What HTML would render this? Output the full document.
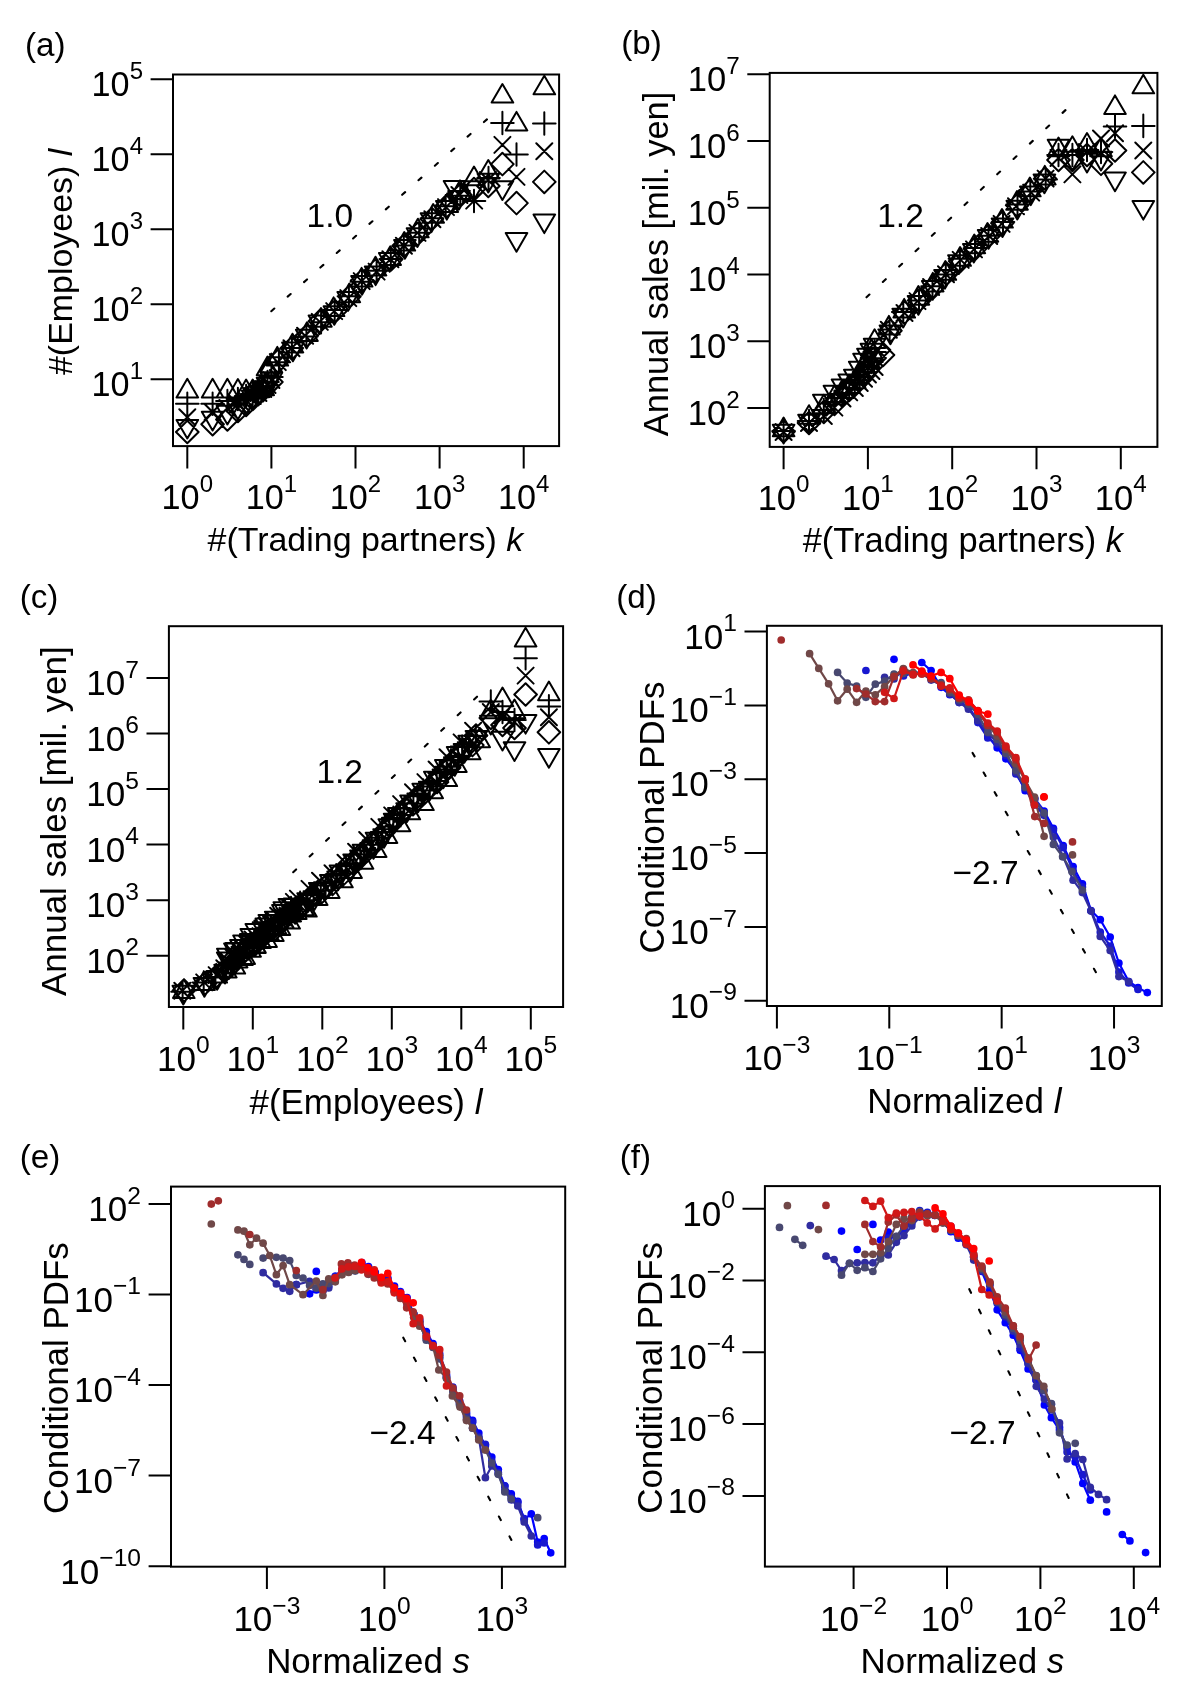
<!DOCTYPE html>
<html><head><meta charset="utf-8"><style>
html,body{margin:0;padding:0;background:#fff;}
svg{display:block;will-change:transform;}
text{font-family:"Liberation Sans", sans-serif;fill:#000;}
</style></head><body>
<svg width="1204" height="1700" viewBox="0 0 1204 1700">
<rect width="1204" height="1700" fill="#fff"/>
<rect x="173" y="74.5" width="386.1" height="371.6" fill="none" stroke="#000" stroke-width="2.0"/>
<text x="161.61" y="508.5" font-size="34.20">10</text><text x="199.65" y="491.5" font-size="24.00">0</text>
<text x="245.71" y="508.5" font-size="34.20">10</text><text x="283.75" y="491.5" font-size="24.00">1</text>
<text x="329.81" y="508.5" font-size="34.20">10</text><text x="367.85" y="491.5" font-size="24.00">2</text>
<text x="413.91" y="508.5" font-size="34.20">10</text><text x="451.95" y="491.5" font-size="24.00">3</text>
<text x="498.01" y="508.5" font-size="34.20">10</text><text x="536.05" y="491.5" font-size="24.00">4</text>
<text x="91.61" y="395.9" font-size="34.20">10</text><text x="129.65" y="378.9" font-size="24.00">1</text>
<text x="91.61" y="320.9" font-size="34.20">10</text><text x="129.65" y="303.9" font-size="24.00">2</text>
<text x="91.61" y="245.9" font-size="34.20">10</text><text x="129.65" y="228.9" font-size="24.00">3</text>
<text x="91.61" y="170.9" font-size="34.20">10</text><text x="129.65" y="153.9" font-size="24.00">4</text>
<text x="91.61" y="95.9" font-size="34.20">10</text><text x="129.65" y="78.9" font-size="24.00">5</text>
<path d="M187.3 446.1V468.5 M271.4 446.1V468.5 M355.5 446.1V468.5 M439.6 446.1V468.5 M523.7 446.1V468.5 M173 379.3H150.6 M173 304.3H150.6 M173 229.3H150.6 M173 154.3H150.6 M173 79.3H150.6" stroke="#000" stroke-width="2.0" fill="none"/>
<rect x="769.7" y="72.9" width="387.7" height="374" fill="none" stroke="#000" stroke-width="2.0"/>
<text x="757.65" y="509.5" font-size="34.54">10</text><text x="796.07" y="492.33" font-size="24.24">0</text>
<text x="841.95" y="509.5" font-size="34.54">10</text><text x="880.37" y="492.33" font-size="24.24">1</text>
<text x="926.25" y="509.5" font-size="34.54">10</text><text x="964.67" y="492.33" font-size="24.24">2</text>
<text x="1010.55" y="509.5" font-size="34.54">10</text><text x="1048.97" y="492.33" font-size="24.24">3</text>
<text x="1094.85" y="509.5" font-size="34.54">10</text><text x="1133.27" y="492.33" font-size="24.24">4</text>
<text x="687.8" y="424.9" font-size="34.54">10</text><text x="726.22" y="407.73" font-size="24.24">2</text>
<text x="687.8" y="358.17" font-size="34.54">10</text><text x="726.22" y="341" font-size="24.24">3</text>
<text x="687.8" y="291.44" font-size="34.54">10</text><text x="726.22" y="274.27" font-size="24.24">4</text>
<text x="687.8" y="224.71" font-size="34.54">10</text><text x="726.22" y="207.54" font-size="24.24">5</text>
<text x="687.8" y="157.98" font-size="34.54">10</text><text x="726.22" y="140.81" font-size="24.24">6</text>
<text x="687.8" y="91.25" font-size="34.54">10</text><text x="726.22" y="74.08" font-size="24.24">7</text>
<path d="M783.6 446.9V469.3 M867.9 446.9V469.3 M952.2 446.9V469.3 M1036.5 446.9V469.3 M1120.8 446.9V469.3 M769.7 407.9H747.3 M769.7 341.17H747.3 M769.7 274.44H747.3 M769.7 207.71H747.3 M769.7 140.98H747.3 M769.7 74.25H747.3" stroke="#000" stroke-width="2.0" fill="none"/>
<rect x="168.9" y="626.2" width="394.2" height="380.8" fill="none" stroke="#000" stroke-width="2.0"/>
<text x="156.96" y="1070.7" font-size="35.05">10</text><text x="195.96" y="1053.28" font-size="24.60">0</text>
<text x="226.46" y="1070.7" font-size="35.05">10</text><text x="265.46" y="1053.28" font-size="24.60">1</text>
<text x="295.96" y="1070.7" font-size="35.05">10</text><text x="334.96" y="1053.28" font-size="24.60">2</text>
<text x="365.46" y="1070.7" font-size="35.05">10</text><text x="404.46" y="1053.28" font-size="24.60">3</text>
<text x="434.96" y="1070.7" font-size="35.05">10</text><text x="473.96" y="1053.28" font-size="24.60">4</text>
<text x="504.46" y="1070.7" font-size="35.05">10</text><text x="543.46" y="1053.28" font-size="24.60">5</text>
<text x="86.23" y="972.7" font-size="35.05">10</text><text x="125.22" y="955.28" font-size="24.60">2</text>
<text x="86.23" y="917.16" font-size="35.05">10</text><text x="125.22" y="899.74" font-size="24.60">3</text>
<text x="86.23" y="861.62" font-size="35.05">10</text><text x="125.22" y="844.2" font-size="24.60">4</text>
<text x="86.23" y="806.08" font-size="35.05">10</text><text x="125.22" y="788.66" font-size="24.60">5</text>
<text x="86.23" y="750.54" font-size="35.05">10</text><text x="125.22" y="733.12" font-size="24.60">6</text>
<text x="86.23" y="695" font-size="35.05">10</text><text x="125.22" y="677.58" font-size="24.60">7</text>
<path d="M183.3 1007V1029.4 M252.8 1007V1029.4 M322.3 1007V1029.4 M391.8 1007V1029.4 M461.3 1007V1029.4 M530.8 1007V1029.4 M168.9 955.7H146.5 M168.9 900.16H146.5 M168.9 844.62H146.5 M168.9 789.08H146.5 M168.9 733.54H146.5 M168.9 678H146.5" stroke="#000" stroke-width="2.0" fill="none"/>
<rect x="766.9" y="625.8" width="394.9" height="380.2" fill="none" stroke="#000" stroke-width="2.0"/>
<text x="743.38" y="1070.3" font-size="35.05">10</text><text x="782.37" y="1052.88" font-size="24.60">−3</text>
<text x="855.76" y="1070.3" font-size="35.05">10</text><text x="894.75" y="1052.88" font-size="24.60">−1</text>
<text x="975.32" y="1070.3" font-size="35.05">10</text><text x="1014.32" y="1052.88" font-size="24.60">1</text>
<text x="1087.7" y="1070.3" font-size="35.05">10</text><text x="1126.7" y="1052.88" font-size="24.60">3</text>
<text x="684.23" y="648.6" font-size="35.05">10</text><text x="723.22" y="631.18" font-size="24.60">1</text>
<text x="669.86" y="722.44" font-size="35.05">10</text><text x="708.85" y="705.02" font-size="24.60">−1</text>
<text x="669.86" y="796.28" font-size="35.05">10</text><text x="708.85" y="778.86" font-size="24.60">−3</text>
<text x="669.86" y="870.12" font-size="35.05">10</text><text x="708.85" y="852.7" font-size="24.60">−5</text>
<text x="669.86" y="943.96" font-size="35.05">10</text><text x="708.85" y="926.54" font-size="24.60">−7</text>
<text x="669.86" y="1017.8" font-size="35.05">10</text><text x="708.85" y="1000.38" font-size="24.60">−9</text>
<path d="M776.9 1006V1028.4 M889.28 1006V1028.4 M1001.66 1006V1028.4 M1114.04 1006V1028.4 M766.9 631.6H744.5 M766.9 705.44H744.5 M766.9 779.28H744.5 M766.9 853.12H744.5 M766.9 926.96H744.5 M766.9 1000.8H744.5" stroke="#000" stroke-width="2.0" fill="none"/>
<rect x="171" y="1186.6" width="394.2" height="380.1" fill="none" stroke="#000" stroke-width="2.0"/>
<text x="233.38" y="1631.1" font-size="35.05">10</text><text x="272.37" y="1613.67" font-size="24.60">−3</text>
<text x="358.07" y="1631.1" font-size="35.05">10</text><text x="397.07" y="1613.67" font-size="24.60">0</text>
<text x="475.58" y="1631.1" font-size="35.05">10</text><text x="514.58" y="1613.67" font-size="24.60">3</text>
<text x="88.33" y="1221.3" font-size="35.05">10</text><text x="127.32" y="1203.88" font-size="24.60">2</text>
<text x="73.96" y="1311.87" font-size="35.05">10</text><text x="112.95" y="1294.45" font-size="24.60">−1</text>
<text x="73.96" y="1402.44" font-size="35.05">10</text><text x="112.95" y="1385.02" font-size="24.60">−4</text>
<text x="73.96" y="1493.01" font-size="35.05">10</text><text x="112.95" y="1475.59" font-size="24.60">−7</text>
<text x="60.28" y="1583.58" font-size="35.05">10</text><text x="99.27" y="1566.16" font-size="24.60">−10</text>
<path d="M266.9 1566.7V1589.1 M384.41 1566.7V1589.1 M501.92 1566.7V1589.1 M171 1203.9H148.6 M171 1294.47H148.6 M171 1385.04H148.6 M171 1475.61H148.6 M171 1566.18H148.6" stroke="#000" stroke-width="2.0" fill="none"/>
<rect x="764.9" y="1186.1" width="395.1" height="380.5" fill="none" stroke="#000" stroke-width="2.0"/>
<text x="820.08" y="1631.1" font-size="35.05">10</text><text x="859.07" y="1613.67" font-size="24.60">−2</text>
<text x="920.66" y="1631.1" font-size="35.05">10</text><text x="959.66" y="1613.67" font-size="24.60">0</text>
<text x="1014.06" y="1631.1" font-size="35.05">10</text><text x="1053.06" y="1613.67" font-size="24.60">2</text>
<text x="1107.46" y="1631.1" font-size="35.05">10</text><text x="1146.46" y="1613.67" font-size="24.60">4</text>
<text x="682.23" y="1225.7" font-size="35.05">10</text><text x="721.22" y="1208.28" font-size="24.60">0</text>
<text x="667.86" y="1297.5" font-size="35.05">10</text><text x="706.85" y="1280.08" font-size="24.60">−2</text>
<text x="667.86" y="1369.3" font-size="35.05">10</text><text x="706.85" y="1351.88" font-size="24.60">−4</text>
<text x="667.86" y="1441.1" font-size="35.05">10</text><text x="706.85" y="1423.67" font-size="24.60">−6</text>
<text x="667.86" y="1512.9" font-size="35.05">10</text><text x="706.85" y="1495.48" font-size="24.60">−8</text>
<path d="M853.6 1566.6V1589 M947 1566.6V1589 M1040.4 1566.6V1589 M1133.8 1566.6V1589 M764.9 1208.7H742.5 M764.9 1280.5H742.5 M764.9 1352.3H742.5 M764.9 1424.1H742.5 M764.9 1495.9H742.5" stroke="#000" stroke-width="2.0" fill="none"/>
<text x="207.56" y="550.9" font-size="33.95" xml:space="preserve"><tspan>#(Trading partners) </tspan><tspan font-style="italic">k</tspan></text>
<text x="802.72" y="551.8" font-size="34.45" xml:space="preserve"><tspan>#(Trading partners) </tspan><tspan font-style="italic">k</tspan></text>
<text x="249.46" y="1113.5" font-size="34.95" xml:space="preserve"><tspan>#(Employees) </tspan><tspan font-style="italic">l</tspan></text>
<text x="867.24" y="1113.1" font-size="34.95" xml:space="preserve"><tspan>Normalized </tspan><tspan font-style="italic">l</tspan></text>
<text x="266.13" y="1673.3" font-size="34.95" xml:space="preserve"><tspan>Normalized </tspan><tspan font-style="italic">s</tspan></text>
<text x="860.48" y="1673.3" font-size="34.95" xml:space="preserve"><tspan>Normalized </tspan><tspan font-style="italic">s</tspan></text>
<text transform="translate(72.3 375.01) rotate(-90)" font-size="33.95" xml:space="preserve"><tspan>#(Employees) </tspan><tspan font-style="italic">l</tspan></text>
<text transform="translate(667.7 436.23) rotate(-90)" font-size="34.45" xml:space="preserve"><tspan>Annual sales [mil. yen]</tspan></text>
<text transform="translate(65.8 995.94) rotate(-90)" font-size="34.95" xml:space="preserve"><tspan>Annual sales [mil. yen]</tspan></text>
<text transform="translate(663.7 953.38) rotate(-90)" font-size="34.95" xml:space="preserve"><tspan>Conditional PDFs</tspan></text>
<text transform="translate(67.8 1514.03) rotate(-90)" font-size="34.95" xml:space="preserve"><tspan>Conditional PDFs</tspan></text>
<text transform="translate(661.8 1513.83) rotate(-90)" font-size="34.95" xml:space="preserve"><tspan>Conditional PDFs</tspan></text>
<text x="24.9" y="56" font-size="33.2">(a)</text>
<text x="621.2" y="54.2" font-size="33.2">(b)</text>
<text x="19.7" y="608.2" font-size="33.2">(c)</text>
<text x="616.2" y="607.8" font-size="33.2">(d)</text>
<text x="19.7" y="1168.2" font-size="33.2">(e)</text>
<text x="619.7" y="1168.2" font-size="33.2">(f)</text>
<text x="329.8" y="226.8" font-size="33.5" text-anchor="middle">1.0</text>
<text x="900.5" y="226.5" font-size="33.5" text-anchor="middle">1.2</text>
<text x="339.7" y="782.5" font-size="33.5" text-anchor="middle">1.2</text>
<text x="985.5" y="883.5" font-size="33.5" text-anchor="middle">−2.7</text>
<text x="402.5" y="1443.7" font-size="33.5" text-anchor="middle">−2.4</text>
<text x="982.5" y="1443.7" font-size="33.5" text-anchor="middle">−2.7</text>
<path d="M187.3 378.8L198.1 397.4H176.5ZM176 403.8H198.6M187.3 392.5V415.1M179.3 409.2L195.3 425.2M179.3 425.2L195.3 409.2M176 432L187.3 420.7L198.6 432L187.3 443.3ZM187.3 438.5L198.1 419.9H176.5ZM212.6 378.8L223.4 397.4H201.8ZM201.3 403.8H223.9M212.6 392.5V415.1M204.6 404L220.6 420M204.6 420L220.6 404M201.3 424.2L212.6 412.9L223.9 424.2L212.6 435.5ZM212.6 430.4L223.4 411.8H201.8ZM227.4 378.8L238.2 397.4H216.6ZM216.1 401H238.7M227.4 389.7V412.3M219.4 400L235.4 416M219.4 416L235.4 400M216.1 419.5L227.4 408.2L238.7 419.5L227.4 430.8ZM227.4 424.4L238.2 405.8H216.6ZM237.9 379.1L248.7 397.7H227.1ZM226.6 399H249.2M237.9 387.7V410.3M229.9 396L245.9 412M229.9 412L245.9 396M226.6 411L237.9 399.7L249.2 411L237.9 422.3ZM237.9 419.4L248.7 400.8H227.1ZM246.1 379.6L256.9 398.2H235.3ZM234.8 396H257.4M246.1 384.7V407.3M238.1 392L254.1 408M238.1 408L254.1 392M234.8 405L246.1 393.7L257.4 405L246.1 416.3ZM246.1 414.4L256.9 395.8H235.3ZM252.7 379.6L263.5 398.2H241.9ZM241.4 394H264M252.7 382.7V405.3M244.7 388L260.7 404M244.7 404L260.7 388M241.4 399L252.7 387.7L264 399L252.7 410.3ZM252.7 409.4L263.5 390.8H241.9ZM258.4 378.6L269.2 397.2H247.6ZM247.1 391H269.7M258.4 379.7V402.3M250.4 385L266.4 401M250.4 401L266.4 385M247.1 394L258.4 382.7L269.7 394L258.4 405.3ZM258.4 405.4L269.2 386.8H247.6ZM263.2 376.6L274 395.2H252.4ZM251.9 387H274.5M263.2 375.7V398.3M255.2 381L271.2 397M255.2 397L271.2 381M251.9 390L263.2 378.7L274.5 390L263.2 401.3ZM263.2 401.4L274 382.8H252.4ZM267.5 356.6L278.3 375.2H256.7ZM256.2 382H278.8M267.5 370.7V393.3M259.5 377L275.5 393M259.5 393L275.5 377M256.2 386L267.5 374.7L278.8 386L267.5 397.3ZM267.5 396.4L278.3 377.8H256.7ZM271.4 353.6L282.2 372.2H260.6ZM260.1 377H282.7M271.4 365.7V388.3M263.4 372L279.4 388M263.4 388L279.4 372M260.1 382L271.4 370.7L282.7 382L271.4 393.3ZM271.4 391.4L282.2 372.8H260.6ZM277.3 346.9L288.1 365.6H266.6ZM267.6 362.2H290.2M278.9 350.9V373.5M269.8 354.1L285.8 370.1M269.8 370.1L285.8 354.1M266.6 361.2L277.9 349.9L289.2 361.2L277.9 372.5ZM277.8 375.8L288.6 357.2H267ZM292.5 333.7L303.2 352.4H281.7ZM280.6 348.1H303.2M291.9 336.8V359.4M283.5 340.3L299.5 356.3M283.5 356.3L299.5 340.3M280.4 348.3L291.7 337L303 348.3L291.7 359.6ZM292.9 361.3L303.7 342.6H282.1ZM307 322.3L317.8 340.9H296.2ZM295.1 336.4H317.7M306.4 325.1V347.7M297.1 327.8L313.1 343.8M297.1 343.8L313.1 327.8M295.4 335.8L306.7 324.5L318 335.8L306.7 347.1ZM306.6 348.4L317.4 329.8H295.9ZM321 308L331.7 326.7H310.2ZM309.8 322.2H332.4M321.1 310.9V333.5M311.8 313.9L327.8 329.9M311.8 329.9L327.8 313.9M308.6 321.1L319.9 309.8L331.2 321.1L319.9 332.5ZM319.4 334.2L330.1 315.5H308.6ZM333.6 297.4L344.3 316.1H322.8ZM323.4 309.9H346M334.7 298.6V321.2M326.2 303.1L342.2 319.1M326.2 319.1L342.2 303.1M323.9 311.3L335.2 299.9L346.5 311.3L335.2 322.6ZM334.3 324.8L345.1 306.2H323.6ZM349.3 283.5L360.1 302.2H338.6ZM337.6 296.2H360.2M348.9 284.9V307.5M340.3 290.1L356.3 306.1M340.3 306.1L356.3 290.1M338.1 296.6L349.4 285.3L360.7 296.6L349.4 307.9ZM348.2 310.8L359 292.1H337.4ZM361.6 267.9L372.4 286.6H350.8ZM350.6 281.8H373.2M361.9 270.5V293.1M353.7 273.1L369.7 289.1M353.7 289.1L369.7 273.1M350.8 280.4L362.1 269.1L373.4 280.4L362.1 291.7ZM362 294.7L372.8 276H351.2ZM375.5 256.7L386.3 275.4H364.7ZM365.3 270.7H387.9M376.6 259.4V282.1M368.6 263.6L384.6 279.6M368.6 279.6L384.6 263.6M364.1 270.8L375.5 259.4L386.8 270.8L375.5 282.1ZM375.6 285.1L386.4 266.4H364.8ZM390.3 246.3L401 265H379.5ZM379.5 259H402.1M390.8 247.7V270.3M382.4 251.3L398.4 267.3M382.4 267.3L398.4 251.3M379.9 259.3L391.2 248L402.5 259.3L391.2 270.6ZM389.7 271.7L400.5 253H378.9ZM404.3 232L415.1 250.6H393.6ZM392.5 245.6H415.1M403.8 234.3V256.9M395.9 237.7L411.9 253.7M395.9 253.7L411.9 237.7M392.4 245.8L403.7 234.5L415.1 245.8L403.7 257.1ZM404.9 258.7L415.7 240H394.1ZM417.9 218.7L428.6 237.3H407.1ZM407.9 232.8H430.5M419.2 221.5V244.1M409.5 224.9L425.5 240.9M409.5 240.9L425.5 224.9M406.3 234L417.6 222.7L428.9 234L417.6 245.3ZM417.4 246.9L428.2 228.2H406.7ZM433.2 204.1L444 222.7H422.5ZM420.6 218.3H443.2M431.9 207V229.7M424.4 211.3L440.4 227.3M424.4 227.3L440.4 211.3M420.5 219L431.8 207.7L443.2 219L431.8 230.3ZM431.5 231.9L442.3 213.3H420.7ZM447.4 193.3L458.1 211.9H436.6ZM434.4 206.2H457M445.7 194.9V217.5M438 199.1L454 215.1M438 215.1L454 199.1M434.9 206.4L446.2 195L457.5 206.4L446.2 217.7ZM446.8 219.6L457.6 201H436ZM460 180.4L470.7 199.1H449.2ZM449 195.8H471.6M460.3 184.5V207.1M451.4 187L467.4 203M451.4 203L467.4 187M449.2 195.1L460.5 183.8L471.8 195.1L460.5 206.5ZM459 209.5L469.8 190.9H448.2ZM454.5 199.6L465.3 181H443.7ZM474 166.6L484.8 185.2H463.2ZM462.7 201H485.3M474 189.7V212.3M466.2 192.6L482.2 208.6M466.2 208.6L482.2 192.6M462.7 189L474 177.7L485.3 189L474 200.3ZM474 199.8L484.8 181.2H463.2ZM488.3 160L499.1 178.6H477.5ZM477.2 178H499.8M488.5 166.7V189.3M480 172L496 188M480 188L496 172M477 186L488.3 174.7L499.6 186L488.3 197.3ZM488.3 192.4L499.1 173.8H477.5ZM502.4 84L513.2 102.6H491.6ZM491.1 123H513.7M502.4 111.7V134.3M494.4 136.9L510.4 152.9M494.4 152.9L510.4 136.9M491.1 164.1L502.4 152.8L513.7 164.1L502.4 175.4ZM502.4 199.9L513.2 181.3H491.6ZM516.5 111.9L527.3 130.5H505.7ZM505.2 154.5H527.8M516.5 143.2V165.8M508.5 168.9L524.5 184.9M508.5 184.9L524.5 168.9M505.2 203.1L516.5 191.8L527.8 203.1L516.5 214.4ZM516.5 251.7L527.3 233.1H505.7ZM544.3 75.7L555.1 94.3H533.5ZM533 123.5H555.6M544.3 112.2V134.8M536.3 143.2L552.3 159.2M536.3 159.2L552.3 143.2M533 181.9L544.3 170.6L555.6 181.9L544.3 193.2ZM544.3 233.1L555.1 214.5H533.5Z" fill="none" stroke="#000" stroke-width="2.0" stroke-linejoin="round" stroke-linecap="round"/>
<path d="M271.3 311.2L486.9 119.4" stroke="#000" stroke-width="2.1" stroke-linecap="round" stroke-dasharray="4.00 17.89" fill="none"/>
<path d="M783.6 417.6L794.4 436.2H772.8ZM772.3 431H794.9M783.6 419.7V442.3M775.6 424L791.6 440M775.6 440L791.6 424M772.3 431.5L783.6 420.2L794.9 431.5L783.6 442.8ZM783.6 443.4L794.4 424.8H772.8ZM809 405.2L819.8 423.8H798.2ZM797.7 421H820.3M809 409.7V432.3M801 415L817 431M801 431L817 415M797.7 423L809 411.7L820.3 423L809 434.3ZM809 433.4L819.8 414.8H798.2ZM823.8 394.6L834.6 413.2H813ZM812.5 410H835.1M823.8 398.7V421.3M815.8 408L831.8 424M815.8 424L831.8 408M812.5 412L823.8 400.7L835.1 412L823.8 423.3ZM823.8 413.4L834.6 394.8H813ZM834.4 385.6L845.2 404.2H823.6ZM823.1 402H845.7M834.4 390.7V413.3M826.4 399.6L842.4 415.6M826.4 415.6L842.4 399.6M823.1 404L834.4 392.7L845.7 404L834.4 415.3ZM834.4 404.4L845.2 385.8H823.6ZM842.5 379.5L853.3 398.1H831.7ZM831.2 394H853.8M842.5 382.7V405.3M834.5 390.5L850.5 406.5M834.5 406.5L850.5 390.5M831.2 396L842.5 384.7L853.8 396L842.5 407.3ZM842.5 398.1L853.3 379.5H831.7ZM849.2 374.5L860 393.1H838.4ZM837.9 388H860.5M849.2 376.7V399.3M841.2 384.4L857.2 400.4M841.2 400.4L857.2 384.4M837.9 390L849.2 378.7L860.5 390L849.2 401.3ZM849.2 393.1L860 374.5H838.4ZM854.8 369.6L865.6 388.2H844ZM843.5 383H866.1M854.8 371.7V394.3M846.8 380L862.8 396M846.8 396L862.8 380M843.5 385L854.8 373.7L866.1 385L854.8 396.3ZM854.8 388.4L865.6 369.8H844ZM859.7 361.6L870.5 380.2H848.9ZM848.4 377H871M859.7 365.7V388.3M851.7 375L867.7 391M851.7 391L867.7 375M848.4 380L859.7 368.7L871 380L859.7 391.3ZM859.7 380.4L870.5 361.8H848.9ZM864 353.6L874.8 372.2H853.2ZM852.7 372H875.3M864 360.7V383.3M856 370.8L872 386.8M856 386.8L872 370.8M852.7 375L864 363.7L875.3 375L864 386.3ZM864 372.4L874.8 353.8H853.2ZM867.9 347.6L878.7 366.2H857.1ZM856.6 367H879.2M867.9 355.7V378.3M859.9 366.5L875.9 382.5M859.9 382.5L875.9 366.5M856.6 370L867.9 358.7L879.2 370L867.9 381.3ZM867.9 367.4L878.7 348.8H857.1ZM871.4 339.6L882.2 358.2H860.6ZM860.1 362H882.7M871.4 350.7V373.3M863.4 363L879.4 379M863.4 379L879.4 363M860.1 366L871.4 354.7L882.7 366L871.4 377.3ZM871.4 362.4L882.2 343.8H860.6ZM874.6 329.3L885.4 347.9H863.8ZM863.3 352H885.9M874.6 340.7V363.3M866.6 359L882.6 375M866.6 375L882.6 359M863.3 358L874.6 346.7L885.9 358L874.6 369.3ZM874.6 357.4L885.4 338.8H863.8ZM871.7 355L883 343.7L894.3 355L883 366.3ZM867.7 350L879 338.7L890.3 350L879 361.3ZM888.9 315.9L899.7 334.6H878.2ZM878.3 329.4H900.9M889.6 318.1V340.7M880.8 321.7L896.8 337.7M880.8 337.7L896.8 321.7M879.1 330.7L890.4 319.4L901.7 330.7L890.4 342ZM890.4 344.2L901.2 325.5H879.6ZM904.2 298.9L915 317.6H893.4ZM891.9 312.1H914.6M903.3 300.8V323.4M896.5 305L912.5 321M896.5 321L912.5 305M893.1 312.6L904.4 301.3L915.7 312.6L904.4 323.9ZM903.2 327.4L914 308.7H892.4ZM918.4 286L929.2 304.7H907.6ZM907.7 300.5H930.3M919 289.2V311.8M909.5 293.1L925.5 309.1M909.5 309.1L925.5 293.1M908.1 300.2L919.4 288.9L930.7 300.2L919.4 311.5ZM918.4 314.8L929.2 296.1H907.7ZM932.8 272.9L943.5 291.5H922ZM921.2 286.3H943.8M932.5 275V297.6M923.1 279L939.1 295M923.1 295L939.1 279M921.3 288L932.6 276.7L944 288L932.6 299.4ZM932.7 299.8L943.4 281.1H921.9ZM945.4 261.1L956.1 279.8H934.6ZM934.5 274.4H957.1M945.8 263.1V285.7M938 266.3L954 282.3M938 282.3L954 266.3M935.2 273.7L946.5 262.4L957.8 273.7L946.5 285ZM945 288.6L955.8 269.9H934.2ZM960.1 247.1L970.9 265.8H949.4ZM948.6 258.8H971.2M959.9 247.5V270.2M952.7 251.9L968.7 267.9M952.7 267.9L968.7 251.9M948.8 261.1L960.1 249.8L971.4 261.1L960.1 272.5ZM958.9 273.9L969.7 255.3H948.1ZM974.3 234.6L985.1 253.2H963.5ZM963.7 247.9H986.3M975 236.6V259.2M966 241.4L982 257.4M966 257.4L982 241.4M963.7 248.9L975 237.6L986.3 248.9L975 260.2ZM973.8 262.5L984.5 243.9H963ZM987.5 223L998.2 241.7H976.7ZM977.2 235.8H999.8M988.5 224.4V247.1M981.2 228L997.2 244M981.2 244L997.2 228M977.4 235.9L988.7 224.6L1000 235.9L988.7 247.2ZM988.6 248.7L999.3 230.1H977.8ZM1002 209L1012.8 227.6H991.2ZM991.7 222H1014.3M1003 210.7V233.3M993.6 215.9L1009.6 231.9M993.6 231.9L1009.6 215.9M991 223.1L1002.3 211.8L1013.6 223.1L1002.3 234.4ZM1002.5 237L1013.3 218.4H991.7ZM1017 191.1L1027.8 209.7H1006.2ZM1006.2 204.5H1028.8M1017.5 193.2V215.8M1008 198.3L1024 214.3M1008 214.3L1024 198.3M1005.9 205.4L1017.2 194.1L1028.5 205.4L1017.2 216.7ZM1017.3 219.4L1028.1 200.7H1006.5ZM1029.9 177.6L1040.6 196.3H1019.1ZM1019 191.4H1041.6M1030.3 180.1V202.7M1023.2 184.6L1039.2 200.6M1023.2 200.6L1039.2 184.6M1018.5 191L1029.8 179.7L1041.1 191L1029.8 202.3ZM1030.8 205.1L1041.5 186.5H1020ZM1044.8 165.9L1055.6 184.5H1034ZM1034.4 179.4H1057M1045.7 168.1V190.7M1037.6 170.6L1053.6 186.6M1037.6 186.6L1053.6 170.6M1033.8 178.6L1045.1 167.3L1056.4 178.6L1045.1 189.9ZM1044.4 193.2L1055.2 174.5H1033.6ZM1058.5 137.6L1069.3 156.2H1047.7ZM1047.2 155H1069.8M1058.5 143.7V166.3M1050.5 150L1066.5 166M1050.5 166L1066.5 150M1047.2 160L1058.5 148.7L1069.8 160L1058.5 171.3ZM1058.5 158.4L1069.3 139.8H1047.7ZM1072.4 136.3L1083.2 154.9H1061.6ZM1061.1 155H1083.7M1072.4 143.7V166.3M1064.4 166.4L1080.4 182.4M1064.4 182.4L1080.4 166.4M1061.1 160L1072.4 148.7L1083.7 160L1072.4 171.3ZM1072.4 170.4L1083.2 151.8H1061.6ZM1087 133L1097.8 151.6H1076.2ZM1075.7 150H1098.3M1087 138.7V161.3M1079 144L1095 160M1079 160L1095 144M1075.7 155L1087 143.7L1098.3 155L1087 166.3ZM1087 172.4L1097.8 153.8H1076.2ZM1101 137.6L1111.8 156.2H1090.2ZM1089.7 152H1112.3M1101 140.7V163.3M1093 130.5L1109 146.5M1093 146.5L1109 130.5M1089.7 163.8L1101 152.5L1112.3 163.8L1101 175.1ZM1101 170.4L1111.8 151.8H1090.2ZM1115 95.4L1125.8 114H1104.2ZM1103.7 126.6H1126.3M1115 115.3V137.9M1107 125.2L1123 141.2M1107 141.2L1123 125.2M1103.7 150.5L1115 139.2L1126.3 150.5L1115 161.8ZM1115 191.2L1125.8 172.6H1104.2ZM1143.3 74.7L1154.1 93.3H1132.5ZM1132 125.9H1154.6M1143.3 114.6V137.2M1135.3 142.5L1151.3 158.5M1135.3 158.5L1151.3 142.5M1132 172.4L1143.3 161.1L1154.6 172.4L1143.3 183.7ZM1143.3 219.6L1154.1 201H1132.5Z" fill="none" stroke="#000" stroke-width="2.0" stroke-linejoin="round" stroke-linecap="round"/>
<path d="M866.5 297.3L1065.5 110.1" stroke="#000" stroke-width="2.1" stroke-linecap="round" stroke-dasharray="4.00 18.43" fill="none"/>
<path d="M183.8 979.5L194.5 998.1H173ZM171.2 991.7H193.9M182.6 980.4V1003M174.3 982.8L190.3 998.8M174.3 998.8L190.3 982.8M172.7 990.4L184 979.1L195.3 990.4L184 1001.7ZM183.3 1004.4L194.1 985.8H172.5ZM203.9 971.4L214.7 990.1H193.1ZM192.4 982.5H215M203.7 971.2V993.8M196.2 974.4L212.2 990.4M196.2 990.4L212.2 974.4M193.8 983.3L205.1 971.9L216.4 983.3L205.1 994.6ZM204.4 996.7L215.1 978.1H193.6ZM216.2 963.9L227 982.6H205.4ZM204.1 977.1H226.7M215.4 965.7V988.4M208.6 967.1L224.6 983.1M208.6 983.1L224.6 967.1M204.6 976.7L215.9 965.4L227.2 976.7L215.9 988ZM217.2 989.7L228 971H206.5ZM225.9 958.7L236.6 977.4H215.1ZM214 968.6H236.6M225.3 957.3V979.9M216.3 960.3L232.3 976.3M216.3 976.3L232.3 960.3M214.2 970L225.5 958.7L236.8 970L225.5 981.3ZM225.1 983.4L235.9 964.8H214.3ZM234.3 955L245.1 973.6H223.5ZM219.3 962.5H241.9M230.6 951.2V973.8M220.9 953.7L236.9 969.7M220.9 969.7L236.9 953.7M217.5 967.7L228.8 956.4L240.2 967.7L228.8 979.1ZM227.7 971.3L238.4 952.6H216.9ZM236.6 948.8L247.4 967.4H225.8ZM222.8 960.8H245.4M234.1 949.5V972.1M224.7 948.8L240.7 964.8M224.7 964.8L240.7 948.8M222.1 959L233.4 947.7L244.7 959L233.4 970.3ZM227.8 967.5L238.5 948.8H217ZM242 946.3L252.8 965H231.2ZM225.7 958.1H248.3M237 946.8V969.4M224.7 943.6L240.7 959.6M224.7 959.6L240.7 943.6M226.8 957.9L238.1 946.6L249.4 957.9L238.1 969.2ZM234.9 962.2L245.6 943.6H224.1ZM244.2 945.4L255 964H233.4ZM228.8 953.1H251.4M240.1 941.8V964.4M231 941.6L247 957.6M231 957.6L247 941.6M232.4 951.9L243.7 940.6L255 951.9L243.7 963.2ZM236.3 961.6L247.1 942.9H225.5ZM250.1 938L260.9 956.7H239.4ZM231.5 946.7H254.1M242.8 935.4V958M234.8 940.7L250.8 956.7M234.8 956.7L250.8 940.7M236.9 948.4L248.2 937.1L259.5 948.4L248.2 959.7ZM240.9 958.7L251.7 940H230.1ZM254.9 934.3L265.7 953H244.2ZM236 947.7H258.6M247.3 936.4V959M238.5 935.6L254.5 951.6M238.5 951.6L254.5 935.6M237.9 945.5L249.3 934.2L260.6 945.5L249.3 956.8ZM244 954.2L254.8 935.5H233.2ZM254.9 933.8L265.7 952.5H244.1ZM242.7 944.2H265.3M254 932.9V955.5M244.5 931.5L260.5 947.5M244.5 947.5L260.5 931.5M244 944.1L255.4 932.8L266.7 944.1L255.4 955.4ZM250.8 952.7L261.6 934H240ZM260 929.3L270.8 947.9H249.2ZM245.6 938.9H268.2M256.9 927.6V950.2M247.9 929.1L263.9 945.1M247.9 945.1L263.9 929.1M244.8 941.5L256.2 930.2L267.5 941.5L256.2 952.8ZM251.3 947.7L262.1 929.1H240.5ZM266.2 928.4L276.9 947H255.4ZM248.7 935.2H271.3M260 923.9V946.5M252.5 928.1L268.5 944.1M252.5 944.1L268.5 928.1M253 935.2L264.3 923.9L275.6 935.2L264.3 946.5ZM256.3 942.8L267.1 924.1H245.5ZM268.3 922.1L279.1 940.8H257.6ZM254 930.9H276.6M265.3 919.6V942.2M254.4 920.5L270.4 936.5M254.4 936.5L270.4 920.5M253.3 932.6L264.6 921.3L275.9 932.6L264.6 943.9ZM263.5 941L274.3 922.3H252.7ZM273 922.3L283.7 941H262.2ZM256.2 930.4H278.8M267.5 919V941.7M258.4 917.7L274.4 933.7M258.4 933.7L274.4 917.7M260.8 928.9L272.1 917.6L283.4 928.9L272.1 940.2ZM266.2 937.1L277 918.4H255.5ZM275.7 915.3L286.4 933.9H264.9ZM262.6 928.3H285.3M273.9 917V939.6M264.3 915.8L280.3 931.8M264.3 931.8L280.3 915.8M264.3 928.5L275.6 917.2L286.9 928.5L275.6 939.9ZM269.3 933.6L280.1 914.9H258.5ZM279.5 916.2L290.2 934.9H268.7ZM266.7 922.2H289.3M278 910.8V933.5M266.2 912L282.2 928M266.2 928L282.2 912M269.2 922.7L280.5 911.4L291.8 922.7L280.5 934ZM273.3 933.9L284.1 915.3H262.5ZM283.1 909.6L293.9 928.3H272.4ZM268.2 918.7H290.8M279.5 907.4V930M270.2 907.7L286.2 923.7M270.2 923.7L286.2 907.7M270.6 919.6L282 908.3L293.3 919.6L282 930.9ZM275.7 930.4L286.5 911.7H264.9ZM289.2 910L299.9 928.6H278.4ZM275.7 914.3H298.3M287 903V925.6M273.9 908.4L289.9 924.4M273.9 924.4L289.9 908.4M275.1 916.2L286.4 904.9L297.7 916.2L286.4 927.5ZM282.8 923.8L293.6 905.1H272.1ZM290.3 902.9L301 921.5H279.5ZM280.1 914.3H302.7M291.4 903V925.7M280.8 904.7L296.8 920.7M280.8 920.7L296.8 904.7M276.7 914.5L288 903.2L299.3 914.5L288 925.8ZM284.2 920.9L295 902.3H273.5ZM295.9 900.4L306.6 919H285.1ZM279.7 908.2H302.3M291 896.8V919.5M281.3 899.3L297.3 915.3M281.3 915.3L297.3 899.3M283.9 912.3L295.2 901L306.5 912.3L295.2 923.7ZM289.4 917.5L300.2 898.9H278.6ZM302.8 896.7L313.6 915.3H292.1ZM287.9 904.3H310.5M299.2 893V915.6M285.9 893.9L301.9 909.9M285.9 909.9L301.9 893.9M285.3 907.6L296.6 896.3L307.9 907.6L296.6 919ZM294.6 917.2L305.3 898.5H283.8ZM305.9 897.9L316.7 916.6H295.1ZM288.8 902.7H311.4M300.1 891.4V914M289.9 890.6L305.9 906.6M289.9 906.6L305.9 890.6M292.1 904.9L303.4 893.6L314.7 904.9L303.4 916.2ZM302.1 919.1L312.8 900.4H291.3ZM316.7 886.4L327.5 905H305.9ZM302.3 895H324.9M313.6 883.7V906.3M301.5 880.9L317.5 896.9M301.5 896.9L317.5 880.9M301.3 895L312.6 883.7L323.9 895L312.6 906.3ZM314.3 909.9L325.1 891.2H303.5ZM328.8 879.3L339.6 898H318.1ZM314.3 885.6H336.9M325.6 874.3V897M312 872.7L328 888.7M312 888.7L328 872.7M314.3 886.8L325.6 875.5L336.9 886.8L325.6 898.1ZM324.8 901L335.6 882.3H314ZM341.9 868.7L352.7 887.3H331.1ZM324.9 875.4H347.6M336.2 864.1V886.7M324.5 865.3L340.5 881.3M324.5 881.3L340.5 865.3M324.4 876.3L335.7 865L347 876.3L335.7 887.7ZM338.1 890.3L348.8 871.6H327.3ZM351.2 859.3L361.9 877.9H340.4ZM334.7 866.2H357.4M346.1 854.9V877.5M337.5 854.8L353.5 870.8M337.5 870.8L353.5 854.8M335.9 866.3L347.2 855L358.5 866.3L347.2 877.6ZM350 882.5L360.7 863.9H339.2ZM362.6 850L373.3 868.7H351.8ZM349 854.2H371.6M360.3 842.9V865.5M348.1 843.8L364.1 859.8M348.1 859.8L364.1 843.8M347.8 855.8L359.1 844.5L370.4 855.8L359.1 867.2ZM360.9 869.2L371.6 850.5H350.1ZM375.8 838.2L386.5 856.9H365ZM360.4 844.7H383M371.7 833.4V856M359.2 832L375.2 848M359.2 848L375.2 832M360.5 843.4L371.8 832.1L383.1 843.4L371.8 854.7ZM373.5 858.8L384.2 840.2H362.7ZM386.6 824.3L397.3 843H375.8ZM370.7 832H393.4M382 820.7V843.3M371.3 818.9L387.3 834.9M371.3 834.9L387.3 818.9M372.4 832.3L383.7 821L395 832.3L383.7 843.6ZM384 847.8L394.8 829.2H373.3ZM399.5 812.5L410.3 831.2H388.8ZM382 817.8H404.6M393.3 806.5V829.2M384.2 807.4L400.2 823.4M384.2 823.4L400.2 807.4M382.1 819.5L393.5 808.1L404.8 819.5L393.5 830.8ZM394.6 832.5L405.4 813.8H383.8ZM409.3 800.6L420.1 819.3H398.5ZM393 808.5H415.6M404.3 797.1V819.8M393.1 796.1L409.1 812.1M393.1 812.1L409.1 796.1M394.1 808.1L405.5 796.8L416.8 808.1L405.5 819.4ZM407 822L417.8 803.3H396.3ZM422.9 791.4L433.7 810.1H412.2ZM406.2 796.3H428.8M417.5 785V807.6M405 784.2L421 800.2M405 800.2L421 784.2M405.4 797.5L416.7 786.2L428.1 797.5L416.7 808.8ZM418.2 812.1L429 793.4H407.4ZM432.2 779.6L443 798.2H421.5ZM418.5 786.5H441.1M429.8 775.1V797.8M417.4 774.1L433.4 790.1M417.4 790.1L433.4 774.1M418.7 786.9L430 775.6L441.4 786.9L430 798.2ZM429.6 800.5L440.4 781.8H418.9ZM446.3 767.4L457.1 786.1H435.6ZM428.3 773H450.9M439.6 761.7V784.3M428.6 761.5L444.6 777.5M428.6 777.5L444.6 761.5M428.8 775.5L440.1 764.2L451.4 775.5L440.1 786.8ZM443.4 788.1L454.2 769.4H432.6ZM455.9 753.2L466.7 771.9H445.1ZM439.7 760.4H462.3M451 749.1V771.7M439.5 749.3L455.5 765.3M439.5 765.3L455.5 749.3M440.4 762.4L451.7 751.1L463 762.4L451.7 773.8ZM454.8 775.8L465.5 757.2H444ZM469.8 740.6L480.5 759.3H459ZM450.7 746.5H473.4M462.1 735.2V757.8M453.6 734.4L469.6 750.4M453.6 750.4L469.6 734.4M452 749.9L463.4 738.6L474.7 749.9L463.4 761.2ZM464.5 762.6L475.2 743.9H453.7ZM479.2 728.5L490 747.2H468.4ZM464.4 736H487.1M475.8 724.7V747.4M465.1 722.7L481.1 738.7M465.1 738.7L481.1 722.7M464.7 735.5L476 724.2L487.3 735.5L476 746.8ZM476.4 749.8L487.2 731.1H465.6ZM296.2 900.2H318.9M307.6 888.8V911.5M298.5 899L309.8 887.7L321.1 899L309.8 910.3ZM308 911.9L318.8 893.2H297.3ZM309.5 890.3H332.1M320.8 879V901.6M309.5 893L320.8 881.6L332.1 893L320.8 904.3ZM319.7 901.7L330.5 883.1H308.9ZM320 882.3H342.6M331.3 871V893.7M321.2 884.1L332.5 872.8L343.8 884.1L332.5 895.4ZM330.7 893.6L341.5 874.9H320ZM330.1 873.7H352.8M341.5 862.4V885M331.1 875.1L342.4 863.7L353.7 875.1L342.4 886.4ZM340.4 884L351.2 865.4H329.6ZM342.4 863.2H365M353.7 851.9V874.5M342.5 864.1L353.8 852.7L365.1 864.1L353.8 875.4ZM354.1 873.3L364.8 854.6H343.3ZM353.2 850.4H375.8M364.5 839.1V861.7M354.8 851.8L366.1 840.5L377.4 851.8L366.1 863.1ZM363.5 863.3L374.3 844.7H352.7ZM366.9 837.7H389.6M378.2 826.4V849M365.7 841.2L377 829.8L388.3 841.2L377 852.5ZM376.5 851.5L387.2 832.8H365.7ZM378.1 826.5H400.7M389.4 815.2V837.9M378.4 825.5L389.7 814.2L401 825.5L389.7 836.8ZM389.3 837.8L400.1 819.2H378.5ZM388.8 815.1H411.4M400.1 803.8V826.4M390.4 813.3L401.7 802L413 813.3L401.7 824.6ZM398.8 826.5L409.6 807.9H388ZM402.1 803.4H424.7M413.4 792.1V814.7M401.7 804.3L413 792.9L424.4 804.3L413 815.6ZM411 814.1L421.8 795.5H400.2ZM412 790.6H434.6M423.3 779.3V801.9M413.2 793L424.5 781.7L435.8 793L424.5 804.3ZM423.2 802.4L433.9 783.7H412.4ZM425.3 781H448M436.7 769.7V792.3M425.8 782.1L437.1 770.8L448.4 782.1L437.1 793.4ZM434.8 790.4L445.5 771.8H424ZM435.3 766.7H457.9M446.6 755.4V778M437.8 767.8L449.1 756.5L460.4 767.8L449.1 779.1ZM445.8 778.8L456.5 760.1H435ZM446.7 755.8H469.4M458.1 744.5V767.1M448.8 754.9L460.1 743.6L471.4 754.9L460.1 766.2ZM457.5 765.8L468.3 747.1H446.8ZM457.7 742.3H480.3M469 731V753.7M461.1 745.1L472.4 733.8L483.7 745.1L472.4 756.4ZM469.1 754.4L479.9 735.7H458.4ZM490.8 699.6L501.6 718.2H480ZM479.5 701.5H502.1M490.8 690.2V712.8M482.8 704L498.8 720M482.8 720L498.8 704M479.5 718L490.8 706.7L502.1 718L490.8 729.3ZM490.8 734.4L501.6 715.8H480ZM502.5 687.6L513.3 706.2H491.7ZM491.2 712H513.8M502.5 700.7V723.3M494.5 707L510.5 723M494.5 723L510.5 707M491.2 725L502.5 713.7L513.8 725L502.5 736.3ZM502.5 750.4L513.3 731.8H491.7ZM514.5 699.6L525.3 718.2H503.7ZM503.2 720H525.8M514.5 708.7V731.3M506.5 714L522.5 730M506.5 730L522.5 714M503.2 728L514.5 716.7L525.8 728L514.5 739.3ZM514.5 760.9L525.3 742.3H503.7ZM525.6 627.8L536.4 646.4H514.8ZM514.3 658.3H536.9M525.6 647V669.6M517.6 667.6L533.6 683.6M517.6 683.6L533.6 667.6M514.3 694.5L525.6 683.2L536.9 694.5L525.6 705.8ZM525.6 733.6L536.4 715H514.8ZM548.9 681.6L559.7 700.2H538.1ZM537.6 706.4H560.2M548.9 695.1V717.7M540.9 709.2L556.9 725.2M540.9 725.2L556.9 709.2M537.6 732.3L548.9 721L560.2 732.3L548.9 743.6ZM548.9 767.7L559.7 749.1H538.1Z" fill="none" stroke="#000" stroke-width="2.0" stroke-linejoin="round" stroke-linecap="round"/>
<path d="M293.2 872.2L477 696.7" stroke="#000" stroke-width="2.1" stroke-linecap="round" stroke-dasharray="4.00 18.74" fill="none"/>
<path d="M921.8 662.5L931.1 670.6L941.1 687.3L949.8 694.7L959.2 701.6L968.5 707.3L977.9 720.2L987.8 736.1L997.2 747.8L1005.9 758.8L1015.9 771.5L1025.2 790.7L1034.8 798.6L1044.1 811L1053.4 828.3L1063.2 845.6L1073.1 866.6L1082.4 883.9L1091 910.5L1100.3 919.7L1110.2 937L1118.9 963L1128.7 981.5L1138 987.7L1147.3 992.6" stroke="#0000ff" stroke-width="2.2" fill="none" stroke-linejoin="round"/>
<circle cx="921.8" cy="662.5" r="3.85" fill="#0000ff"/>
<circle cx="931.1" cy="670.6" r="3.85" fill="#0000ff"/>
<circle cx="941.1" cy="687.3" r="3.85" fill="#0000ff"/>
<circle cx="949.8" cy="694.7" r="3.85" fill="#0000ff"/>
<circle cx="959.2" cy="701.6" r="3.85" fill="#0000ff"/>
<circle cx="968.5" cy="707.3" r="3.85" fill="#0000ff"/>
<circle cx="977.9" cy="720.2" r="3.85" fill="#0000ff"/>
<circle cx="987.8" cy="736.1" r="3.85" fill="#0000ff"/>
<circle cx="997.2" cy="747.8" r="3.85" fill="#0000ff"/>
<circle cx="1005.9" cy="758.8" r="3.85" fill="#0000ff"/>
<circle cx="1015.9" cy="771.5" r="3.85" fill="#0000ff"/>
<circle cx="1025.2" cy="790.7" r="3.85" fill="#0000ff"/>
<circle cx="1034.8" cy="798.6" r="3.85" fill="#0000ff"/>
<circle cx="1044.1" cy="811" r="3.85" fill="#0000ff"/>
<circle cx="1053.4" cy="828.3" r="3.85" fill="#0000ff"/>
<circle cx="1063.2" cy="845.6" r="3.85" fill="#0000ff"/>
<circle cx="1073.1" cy="866.6" r="3.85" fill="#0000ff"/>
<circle cx="1082.4" cy="883.9" r="3.85" fill="#0000ff"/>
<circle cx="1091" cy="910.5" r="3.85" fill="#0000ff"/>
<circle cx="1100.3" cy="919.7" r="3.85" fill="#0000ff"/>
<circle cx="1110.2" cy="937" r="3.85" fill="#0000ff"/>
<circle cx="1118.9" cy="963" r="3.85" fill="#0000ff"/>
<circle cx="1128.7" cy="981.5" r="3.85" fill="#0000ff"/>
<circle cx="1138" cy="987.7" r="3.85" fill="#0000ff"/>
<circle cx="1147.3" cy="992.6" r="3.85" fill="#0000ff"/>
<circle cx="894" cy="659.3" r="3.85" fill="#0000ff"/>
<path d="M903.5 676L913.1 673.1L921.8 672.2L931.1 677.2L941.1 684L949.8 693.1L959.2 702.6L968.5 707.3L977.9 722.6L987.8 738L997.2 744.2L1005.9 755.5L1015.9 774L1025.2 788.6L1034.5 804.9L1044.1 815.3L1053.4 830L1063.2 847.7L1073.1 870.7L1082.4 887.1L1091 910.8L1100.3 932L1110.2 946L1118.9 972L1128.7 983L1138 989.5" stroke="#1818d0" stroke-width="2.2" fill="none" stroke-linejoin="round"/>
<circle cx="903.5" cy="676" r="3.85" fill="#1818d0"/>
<circle cx="913.1" cy="673.1" r="3.85" fill="#1818d0"/>
<circle cx="921.8" cy="672.2" r="3.85" fill="#1818d0"/>
<circle cx="931.1" cy="677.2" r="3.85" fill="#1818d0"/>
<circle cx="941.1" cy="684" r="3.85" fill="#1818d0"/>
<circle cx="949.8" cy="693.1" r="3.85" fill="#1818d0"/>
<circle cx="959.2" cy="702.6" r="3.85" fill="#1818d0"/>
<circle cx="968.5" cy="707.3" r="3.85" fill="#1818d0"/>
<circle cx="977.9" cy="722.6" r="3.85" fill="#1818d0"/>
<circle cx="987.8" cy="738" r="3.85" fill="#1818d0"/>
<circle cx="997.2" cy="744.2" r="3.85" fill="#1818d0"/>
<circle cx="1005.9" cy="755.5" r="3.85" fill="#1818d0"/>
<circle cx="1015.9" cy="774" r="3.85" fill="#1818d0"/>
<circle cx="1025.2" cy="788.6" r="3.85" fill="#1818d0"/>
<circle cx="1034.5" cy="804.9" r="3.85" fill="#1818d0"/>
<circle cx="1044.1" cy="815.3" r="3.85" fill="#1818d0"/>
<circle cx="1053.4" cy="830" r="3.85" fill="#1818d0"/>
<circle cx="1063.2" cy="847.7" r="3.85" fill="#1818d0"/>
<circle cx="1073.1" cy="870.7" r="3.85" fill="#1818d0"/>
<circle cx="1082.4" cy="887.1" r="3.85" fill="#1818d0"/>
<circle cx="1091" cy="910.8" r="3.85" fill="#1818d0"/>
<circle cx="1100.3" cy="932" r="3.85" fill="#1818d0"/>
<circle cx="1110.2" cy="946" r="3.85" fill="#1818d0"/>
<circle cx="1118.9" cy="972" r="3.85" fill="#1818d0"/>
<circle cx="1128.7" cy="983" r="3.85" fill="#1818d0"/>
<circle cx="1138" cy="989.5" r="3.85" fill="#1818d0"/>
<circle cx="865.9" cy="670.5" r="3.85" fill="#1818d0"/>
<path d="M884.6 677.3L894 679L903.7 669.4L913.1 673.6L921.8 673.4L931.1 680.1L941.1 685.1L949.8 694L959.2 702.3L968.5 709.2L977.9 720.4L987.8 732.9L997.2 742.6L1005.9 753.4L1015.9 772.2L1025.2 786.3L1034.5 799.7L1044.1 814.3L1053.4 837L1063.2 856.7L1073.1 880.2L1082.4 892.6L1091 911.1L1100.3 936.4L1110.2 950.6L1118.9 976.6L1128.7 981.5" stroke="#302ca0" stroke-width="2.2" fill="none" stroke-linejoin="round"/>
<circle cx="884.6" cy="677.3" r="3.85" fill="#302ca0"/>
<circle cx="894" cy="679" r="3.85" fill="#302ca0"/>
<circle cx="903.7" cy="669.4" r="3.85" fill="#302ca0"/>
<circle cx="913.1" cy="673.6" r="3.85" fill="#302ca0"/>
<circle cx="921.8" cy="673.4" r="3.85" fill="#302ca0"/>
<circle cx="931.1" cy="680.1" r="3.85" fill="#302ca0"/>
<circle cx="941.1" cy="685.1" r="3.85" fill="#302ca0"/>
<circle cx="949.8" cy="694" r="3.85" fill="#302ca0"/>
<circle cx="959.2" cy="702.3" r="3.85" fill="#302ca0"/>
<circle cx="968.5" cy="709.2" r="3.85" fill="#302ca0"/>
<circle cx="977.9" cy="720.4" r="3.85" fill="#302ca0"/>
<circle cx="987.8" cy="732.9" r="3.85" fill="#302ca0"/>
<circle cx="997.2" cy="742.6" r="3.85" fill="#302ca0"/>
<circle cx="1005.9" cy="753.4" r="3.85" fill="#302ca0"/>
<circle cx="1015.9" cy="772.2" r="3.85" fill="#302ca0"/>
<circle cx="1025.2" cy="786.3" r="3.85" fill="#302ca0"/>
<circle cx="1034.5" cy="799.7" r="3.85" fill="#302ca0"/>
<circle cx="1044.1" cy="814.3" r="3.85" fill="#302ca0"/>
<circle cx="1053.4" cy="837" r="3.85" fill="#302ca0"/>
<circle cx="1063.2" cy="856.7" r="3.85" fill="#302ca0"/>
<circle cx="1073.1" cy="880.2" r="3.85" fill="#302ca0"/>
<circle cx="1082.4" cy="892.6" r="3.85" fill="#302ca0"/>
<circle cx="1091" cy="911.1" r="3.85" fill="#302ca0"/>
<circle cx="1100.3" cy="936.4" r="3.85" fill="#302ca0"/>
<circle cx="1110.2" cy="950.6" r="3.85" fill="#302ca0"/>
<circle cx="1118.9" cy="976.6" r="3.85" fill="#302ca0"/>
<circle cx="1128.7" cy="981.5" r="3.85" fill="#302ca0"/>
<path d="M837.6 672.4L847.2 683L856.6 686.1L865.9 697.3L875.3 684.2L884.6 681.1L894 674.2L903.3 673.6L913.1 673.7L921.8 672.1L931.1 678.6L941.1 682.7L949.8 692.6L959.2 699.9L968.5 704.3L977.9 714.5L987.8 732.2L997.2 739.4L1005.9 753.4L1015.9 770.3L1025.2 787.2L1034.5 798.8L1044.1 812.8L1053.4 844.4L1062.6 856.7L1071.9 871.6L1082.4 890" stroke="#484870" stroke-width="2.2" fill="none" stroke-linejoin="round"/>
<circle cx="837.6" cy="672.4" r="3.85" fill="#484870"/>
<circle cx="847.2" cy="683" r="3.85" fill="#484870"/>
<circle cx="856.6" cy="686.1" r="3.85" fill="#484870"/>
<circle cx="865.9" cy="697.3" r="3.85" fill="#484870"/>
<circle cx="875.3" cy="684.2" r="3.85" fill="#484870"/>
<circle cx="884.6" cy="681.1" r="3.85" fill="#484870"/>
<circle cx="894" cy="674.2" r="3.85" fill="#484870"/>
<circle cx="903.3" cy="673.6" r="3.85" fill="#484870"/>
<circle cx="913.1" cy="673.7" r="3.85" fill="#484870"/>
<circle cx="921.8" cy="672.1" r="3.85" fill="#484870"/>
<circle cx="931.1" cy="678.6" r="3.85" fill="#484870"/>
<circle cx="941.1" cy="682.7" r="3.85" fill="#484870"/>
<circle cx="949.8" cy="692.6" r="3.85" fill="#484870"/>
<circle cx="959.2" cy="699.9" r="3.85" fill="#484870"/>
<circle cx="968.5" cy="704.3" r="3.85" fill="#484870"/>
<circle cx="977.9" cy="714.5" r="3.85" fill="#484870"/>
<circle cx="987.8" cy="732.2" r="3.85" fill="#484870"/>
<circle cx="997.2" cy="739.4" r="3.85" fill="#484870"/>
<circle cx="1005.9" cy="753.4" r="3.85" fill="#484870"/>
<circle cx="1015.9" cy="770.3" r="3.85" fill="#484870"/>
<circle cx="1025.2" cy="787.2" r="3.85" fill="#484870"/>
<circle cx="1034.5" cy="798.8" r="3.85" fill="#484870"/>
<circle cx="1044.1" cy="812.8" r="3.85" fill="#484870"/>
<circle cx="1053.4" cy="844.4" r="3.85" fill="#484870"/>
<circle cx="1062.6" cy="856.7" r="3.85" fill="#484870"/>
<circle cx="1071.9" cy="871.6" r="3.85" fill="#484870"/>
<circle cx="1082.4" cy="890" r="3.85" fill="#484870"/>
<path d="M809.6 653.7L818.8 668.4L828.6 683.8L837.6 700.8L847.2 689.2L856.6 702.3L865.9 691L875.3 694.8L884.6 686.7L894 676.1L903.3 668.6L913.1 672.6L921.8 674L931.1 677.2L941.1 684.9L949.8 690.3L959.2 698L968.5 700L977.9 711.4L987.8 725.3L997.2 736.1L1005.9 749.4L1015.9 763.7L1025.2 780.5L1034.5 797L1044.1 836.3" stroke="#704848" stroke-width="2.2" fill="none" stroke-linejoin="round"/>
<circle cx="809.6" cy="653.7" r="3.85" fill="#704848"/>
<circle cx="818.8" cy="668.4" r="3.85" fill="#704848"/>
<circle cx="828.6" cy="683.8" r="3.85" fill="#704848"/>
<circle cx="837.6" cy="700.8" r="3.85" fill="#704848"/>
<circle cx="847.2" cy="689.2" r="3.85" fill="#704848"/>
<circle cx="856.6" cy="702.3" r="3.85" fill="#704848"/>
<circle cx="865.9" cy="691" r="3.85" fill="#704848"/>
<circle cx="875.3" cy="694.8" r="3.85" fill="#704848"/>
<circle cx="884.6" cy="686.7" r="3.85" fill="#704848"/>
<circle cx="894" cy="676.1" r="3.85" fill="#704848"/>
<circle cx="903.3" cy="668.6" r="3.85" fill="#704848"/>
<circle cx="913.1" cy="672.6" r="3.85" fill="#704848"/>
<circle cx="921.8" cy="674" r="3.85" fill="#704848"/>
<circle cx="931.1" cy="677.2" r="3.85" fill="#704848"/>
<circle cx="941.1" cy="684.9" r="3.85" fill="#704848"/>
<circle cx="949.8" cy="690.3" r="3.85" fill="#704848"/>
<circle cx="959.2" cy="698" r="3.85" fill="#704848"/>
<circle cx="968.5" cy="700" r="3.85" fill="#704848"/>
<circle cx="977.9" cy="711.4" r="3.85" fill="#704848"/>
<circle cx="987.8" cy="725.3" r="3.85" fill="#704848"/>
<circle cx="997.2" cy="736.1" r="3.85" fill="#704848"/>
<circle cx="1005.9" cy="749.4" r="3.85" fill="#704848"/>
<circle cx="1015.9" cy="763.7" r="3.85" fill="#704848"/>
<circle cx="1025.2" cy="780.5" r="3.85" fill="#704848"/>
<circle cx="1034.5" cy="797" r="3.85" fill="#704848"/>
<circle cx="1044.1" cy="836.3" r="3.85" fill="#704848"/>
<circle cx="1072.5" cy="854.9" r="3.85" fill="#704848"/>
<path d="M856.6 688.6L865.9 694L875.3 701.6L884.6 701.6L894 676.7L903.3 669.9L913.1 675L921.8 673.2L931.1 679L941.1 685L949.8 689.2L959.2 698.5L968.5 702.5L977.9 711.2L987.8 725.5L997.2 732.4L1005.9 747.6L1015.9 759.8L1025.2 779.8L1034.8 816.6L1044.1 823.4" stroke="#a02c2c" stroke-width="2.2" fill="none" stroke-linejoin="round"/>
<circle cx="856.6" cy="688.6" r="3.85" fill="#a02c2c"/>
<circle cx="865.9" cy="694" r="3.85" fill="#a02c2c"/>
<circle cx="875.3" cy="701.6" r="3.85" fill="#a02c2c"/>
<circle cx="884.6" cy="701.6" r="3.85" fill="#a02c2c"/>
<circle cx="894" cy="676.7" r="3.85" fill="#a02c2c"/>
<circle cx="903.3" cy="669.9" r="3.85" fill="#a02c2c"/>
<circle cx="913.1" cy="675" r="3.85" fill="#a02c2c"/>
<circle cx="921.8" cy="673.2" r="3.85" fill="#a02c2c"/>
<circle cx="931.1" cy="679" r="3.85" fill="#a02c2c"/>
<circle cx="941.1" cy="685" r="3.85" fill="#a02c2c"/>
<circle cx="949.8" cy="689.2" r="3.85" fill="#a02c2c"/>
<circle cx="959.2" cy="698.5" r="3.85" fill="#a02c2c"/>
<circle cx="968.5" cy="702.5" r="3.85" fill="#a02c2c"/>
<circle cx="977.9" cy="711.2" r="3.85" fill="#a02c2c"/>
<circle cx="987.8" cy="725.5" r="3.85" fill="#a02c2c"/>
<circle cx="997.2" cy="732.4" r="3.85" fill="#a02c2c"/>
<circle cx="1005.9" cy="747.6" r="3.85" fill="#a02c2c"/>
<circle cx="1015.9" cy="759.8" r="3.85" fill="#a02c2c"/>
<circle cx="1025.2" cy="779.8" r="3.85" fill="#a02c2c"/>
<circle cx="1034.8" cy="816.6" r="3.85" fill="#a02c2c"/>
<circle cx="1044.1" cy="823.4" r="3.85" fill="#a02c2c"/>
<circle cx="781.2" cy="640" r="3.85" fill="#a02c2c"/>
<circle cx="1072.5" cy="841.9" r="3.85" fill="#a02c2c"/>
<path d="M884.6 692.3L894 698.5L903.3 671.1L913.1 674.4L921.8 673.9L931.1 676.5L941.1 686.2L949.8 687.9L959.2 697.3L968.5 700.1L977.9 710.6L987.8 723L997.2 731L1005.9 746.1L1015.9 757.7L1025.2 778.9L1034.5 805" stroke="#d01818" stroke-width="2.2" fill="none" stroke-linejoin="round"/>
<circle cx="884.6" cy="692.3" r="3.85" fill="#d01818"/>
<circle cx="894" cy="698.5" r="3.85" fill="#d01818"/>
<circle cx="903.3" cy="671.1" r="3.85" fill="#d01818"/>
<circle cx="913.1" cy="674.4" r="3.85" fill="#d01818"/>
<circle cx="921.8" cy="673.9" r="3.85" fill="#d01818"/>
<circle cx="931.1" cy="676.5" r="3.85" fill="#d01818"/>
<circle cx="941.1" cy="686.2" r="3.85" fill="#d01818"/>
<circle cx="949.8" cy="687.9" r="3.85" fill="#d01818"/>
<circle cx="959.2" cy="697.3" r="3.85" fill="#d01818"/>
<circle cx="968.5" cy="700.1" r="3.85" fill="#d01818"/>
<circle cx="977.9" cy="710.6" r="3.85" fill="#d01818"/>
<circle cx="987.8" cy="723" r="3.85" fill="#d01818"/>
<circle cx="997.2" cy="731" r="3.85" fill="#d01818"/>
<circle cx="1005.9" cy="746.1" r="3.85" fill="#d01818"/>
<circle cx="1015.9" cy="757.7" r="3.85" fill="#d01818"/>
<circle cx="1025.2" cy="778.9" r="3.85" fill="#d01818"/>
<circle cx="1034.5" cy="805" r="3.85" fill="#d01818"/>
<circle cx="1043.9" cy="797" r="3.85" fill="#d01818"/>
<path d="M913 664.9L921.8 671L931.1 676L941.1 672.4L949.8 678.7L959.2 695L969.1 701.7L977.9 711L987.8 714.2" stroke="#ff0000" stroke-width="2.2" fill="none" stroke-linejoin="round"/>
<circle cx="913" cy="664.9" r="3.85" fill="#ff0000"/>
<circle cx="921.8" cy="671" r="3.85" fill="#ff0000"/>
<circle cx="931.1" cy="676" r="3.85" fill="#ff0000"/>
<circle cx="941.1" cy="672.4" r="3.85" fill="#ff0000"/>
<circle cx="949.8" cy="678.7" r="3.85" fill="#ff0000"/>
<circle cx="959.2" cy="695" r="3.85" fill="#ff0000"/>
<circle cx="969.1" cy="701.7" r="3.85" fill="#ff0000"/>
<circle cx="977.9" cy="711" r="3.85" fill="#ff0000"/>
<circle cx="987.8" cy="714.2" r="3.85" fill="#ff0000"/>
<circle cx="1044.1" cy="796.8" r="3.85" fill="#ff0000"/>
<path d="M972.6 752.9L1095.9 972.2" stroke="#000" stroke-width="2.1" stroke-linecap="round" stroke-dasharray="4.00 18.51" fill="none"/>
<path d="M309.6 1293.8L316.3 1290L322.9 1284.8L328.7 1282.8L335.3 1276.4L342 1269.7L348.6 1265.1L355.2 1267.6L361.9 1262.6L368.5 1266.6L375.2 1272.3L381.2 1279.5L387.8 1278.1L394.5 1286.1L400.4 1291.5L407.1 1297.6L413.7 1313.8L419.7 1321.4L426.3 1331.6L433 1343.6L439.6 1353.5L446.5 1374.8L452.9 1389L459.5 1401L466.5 1412.7L472.6 1420.4L478.8 1433.1L485.4 1445.7L491.8 1457.1L498.3 1469.6L504.8 1485.9L511.3 1493.9L517.8 1501.4L524.2 1519.3L531.3 1513.9L537.7 1542L544.2 1538.7L550.7 1552.8" stroke="#0000ff" stroke-width="2.2" fill="none" stroke-linejoin="round"/>
<circle cx="309.6" cy="1293.8" r="3.85" fill="#0000ff"/>
<circle cx="316.3" cy="1290" r="3.85" fill="#0000ff"/>
<circle cx="322.9" cy="1284.8" r="3.85" fill="#0000ff"/>
<circle cx="328.7" cy="1282.8" r="3.85" fill="#0000ff"/>
<circle cx="335.3" cy="1276.4" r="3.85" fill="#0000ff"/>
<circle cx="342" cy="1269.7" r="3.85" fill="#0000ff"/>
<circle cx="348.6" cy="1265.1" r="3.85" fill="#0000ff"/>
<circle cx="355.2" cy="1267.6" r="3.85" fill="#0000ff"/>
<circle cx="361.9" cy="1262.6" r="3.85" fill="#0000ff"/>
<circle cx="368.5" cy="1266.6" r="3.85" fill="#0000ff"/>
<circle cx="375.2" cy="1272.3" r="3.85" fill="#0000ff"/>
<circle cx="381.2" cy="1279.5" r="3.85" fill="#0000ff"/>
<circle cx="387.8" cy="1278.1" r="3.85" fill="#0000ff"/>
<circle cx="394.5" cy="1286.1" r="3.85" fill="#0000ff"/>
<circle cx="400.4" cy="1291.5" r="3.85" fill="#0000ff"/>
<circle cx="407.1" cy="1297.6" r="3.85" fill="#0000ff"/>
<circle cx="413.7" cy="1313.8" r="3.85" fill="#0000ff"/>
<circle cx="419.7" cy="1321.4" r="3.85" fill="#0000ff"/>
<circle cx="426.3" cy="1331.6" r="3.85" fill="#0000ff"/>
<circle cx="433" cy="1343.6" r="3.85" fill="#0000ff"/>
<circle cx="439.6" cy="1353.5" r="3.85" fill="#0000ff"/>
<circle cx="446.5" cy="1374.8" r="3.85" fill="#0000ff"/>
<circle cx="452.9" cy="1389" r="3.85" fill="#0000ff"/>
<circle cx="459.5" cy="1401" r="3.85" fill="#0000ff"/>
<circle cx="466.5" cy="1412.7" r="3.85" fill="#0000ff"/>
<circle cx="472.6" cy="1420.4" r="3.85" fill="#0000ff"/>
<circle cx="478.8" cy="1433.1" r="3.85" fill="#0000ff"/>
<circle cx="485.4" cy="1445.7" r="3.85" fill="#0000ff"/>
<circle cx="491.8" cy="1457.1" r="3.85" fill="#0000ff"/>
<circle cx="498.3" cy="1469.6" r="3.85" fill="#0000ff"/>
<circle cx="504.8" cy="1485.9" r="3.85" fill="#0000ff"/>
<circle cx="511.3" cy="1493.9" r="3.85" fill="#0000ff"/>
<circle cx="517.8" cy="1501.4" r="3.85" fill="#0000ff"/>
<circle cx="524.2" cy="1519.3" r="3.85" fill="#0000ff"/>
<circle cx="531.3" cy="1513.9" r="3.85" fill="#0000ff"/>
<circle cx="537.7" cy="1542" r="3.85" fill="#0000ff"/>
<circle cx="544.2" cy="1538.7" r="3.85" fill="#0000ff"/>
<circle cx="550.7" cy="1552.8" r="3.85" fill="#0000ff"/>
<circle cx="316.3" cy="1271.4" r="3.85" fill="#0000ff"/>
<circle cx="296.3" cy="1284.7" r="3.85" fill="#0000ff"/>
<path d="M322.9 1290L328.7 1286.3L335.3 1276.3L342 1270L348.6 1266.5L355.2 1267.7L361.9 1267.4L368.5 1267.6L375.2 1274.2L381.2 1279.6L387.8 1279L394.5 1290.6L400.4 1295.7L407.1 1302.4L413.7 1314.2L419.7 1319.6L426.3 1333.9L433 1345.7L439.6 1357.2L446.5 1376.9L452.9 1387.1L459.5 1400.8L466.5 1416.7L472.6 1422.2L478.8 1436.5L485.4 1444.3L491.8 1461.1L498.3 1472.6L504.8 1486L511.3 1497.3L517.8 1502.4L524.2 1518.6L537.7 1545L544.2 1543" stroke="#1818d0" stroke-width="2.2" fill="none" stroke-linejoin="round"/>
<circle cx="322.9" cy="1290" r="3.85" fill="#1818d0"/>
<circle cx="328.7" cy="1286.3" r="3.85" fill="#1818d0"/>
<circle cx="335.3" cy="1276.3" r="3.85" fill="#1818d0"/>
<circle cx="342" cy="1270" r="3.85" fill="#1818d0"/>
<circle cx="348.6" cy="1266.5" r="3.85" fill="#1818d0"/>
<circle cx="355.2" cy="1267.7" r="3.85" fill="#1818d0"/>
<circle cx="361.9" cy="1267.4" r="3.85" fill="#1818d0"/>
<circle cx="368.5" cy="1267.6" r="3.85" fill="#1818d0"/>
<circle cx="375.2" cy="1274.2" r="3.85" fill="#1818d0"/>
<circle cx="381.2" cy="1279.6" r="3.85" fill="#1818d0"/>
<circle cx="387.8" cy="1279" r="3.85" fill="#1818d0"/>
<circle cx="394.5" cy="1290.6" r="3.85" fill="#1818d0"/>
<circle cx="400.4" cy="1295.7" r="3.85" fill="#1818d0"/>
<circle cx="407.1" cy="1302.4" r="3.85" fill="#1818d0"/>
<circle cx="413.7" cy="1314.2" r="3.85" fill="#1818d0"/>
<circle cx="419.7" cy="1319.6" r="3.85" fill="#1818d0"/>
<circle cx="426.3" cy="1333.9" r="3.85" fill="#1818d0"/>
<circle cx="433" cy="1345.7" r="3.85" fill="#1818d0"/>
<circle cx="439.6" cy="1357.2" r="3.85" fill="#1818d0"/>
<circle cx="446.5" cy="1376.9" r="3.85" fill="#1818d0"/>
<circle cx="452.9" cy="1387.1" r="3.85" fill="#1818d0"/>
<circle cx="459.5" cy="1400.8" r="3.85" fill="#1818d0"/>
<circle cx="466.5" cy="1416.7" r="3.85" fill="#1818d0"/>
<circle cx="472.6" cy="1422.2" r="3.85" fill="#1818d0"/>
<circle cx="478.8" cy="1436.5" r="3.85" fill="#1818d0"/>
<circle cx="485.4" cy="1444.3" r="3.85" fill="#1818d0"/>
<circle cx="491.8" cy="1461.1" r="3.85" fill="#1818d0"/>
<circle cx="498.3" cy="1472.6" r="3.85" fill="#1818d0"/>
<circle cx="504.8" cy="1486" r="3.85" fill="#1818d0"/>
<circle cx="511.3" cy="1497.3" r="3.85" fill="#1818d0"/>
<circle cx="517.8" cy="1502.4" r="3.85" fill="#1818d0"/>
<circle cx="524.2" cy="1518.6" r="3.85" fill="#1818d0"/>
<circle cx="537.7" cy="1545" r="3.85" fill="#1818d0"/>
<circle cx="544.2" cy="1543" r="3.85" fill="#1818d0"/>
<path d="M263.1 1272.7L276.4 1283.9L283.1 1288.3L289.7 1291.3L296.3 1284.7L309.6 1281.4L316.3 1288L322.9 1291L328.7 1288L335.3 1279.9L342 1270.3L348.6 1268.5L355.2 1270.6L361.9 1266.5L368.5 1273.1L375.2 1274.2L381.2 1279.6L387.8 1282.5L394.5 1291.9L400.4 1296.9L407.1 1305.4L413.7 1314.8L419.7 1324.5L426.3 1338.7L433 1345.9L439.6 1355.5L446.5 1377.1L452.9 1390.9L459.5 1403.3L466.5 1414.7L472.6 1428.2L478.8 1437.8L485.4 1477.7L491.8 1466L498.3 1474L504.8 1490L511.3 1500L517.8 1506L524.2 1522L531.3 1536" stroke="#302ca0" stroke-width="2.2" fill="none" stroke-linejoin="round"/>
<circle cx="263.1" cy="1272.7" r="3.85" fill="#302ca0"/>
<circle cx="276.4" cy="1283.9" r="3.85" fill="#302ca0"/>
<circle cx="283.1" cy="1288.3" r="3.85" fill="#302ca0"/>
<circle cx="289.7" cy="1291.3" r="3.85" fill="#302ca0"/>
<circle cx="296.3" cy="1284.7" r="3.85" fill="#302ca0"/>
<circle cx="309.6" cy="1281.4" r="3.85" fill="#302ca0"/>
<circle cx="316.3" cy="1288" r="3.85" fill="#302ca0"/>
<circle cx="322.9" cy="1291" r="3.85" fill="#302ca0"/>
<circle cx="328.7" cy="1288" r="3.85" fill="#302ca0"/>
<circle cx="335.3" cy="1279.9" r="3.85" fill="#302ca0"/>
<circle cx="342" cy="1270.3" r="3.85" fill="#302ca0"/>
<circle cx="348.6" cy="1268.5" r="3.85" fill="#302ca0"/>
<circle cx="355.2" cy="1270.6" r="3.85" fill="#302ca0"/>
<circle cx="361.9" cy="1266.5" r="3.85" fill="#302ca0"/>
<circle cx="368.5" cy="1273.1" r="3.85" fill="#302ca0"/>
<circle cx="375.2" cy="1274.2" r="3.85" fill="#302ca0"/>
<circle cx="381.2" cy="1279.6" r="3.85" fill="#302ca0"/>
<circle cx="387.8" cy="1282.5" r="3.85" fill="#302ca0"/>
<circle cx="394.5" cy="1291.9" r="3.85" fill="#302ca0"/>
<circle cx="400.4" cy="1296.9" r="3.85" fill="#302ca0"/>
<circle cx="407.1" cy="1305.4" r="3.85" fill="#302ca0"/>
<circle cx="413.7" cy="1314.8" r="3.85" fill="#302ca0"/>
<circle cx="419.7" cy="1324.5" r="3.85" fill="#302ca0"/>
<circle cx="426.3" cy="1338.7" r="3.85" fill="#302ca0"/>
<circle cx="433" cy="1345.9" r="3.85" fill="#302ca0"/>
<circle cx="439.6" cy="1355.5" r="3.85" fill="#302ca0"/>
<circle cx="446.5" cy="1377.1" r="3.85" fill="#302ca0"/>
<circle cx="452.9" cy="1390.9" r="3.85" fill="#302ca0"/>
<circle cx="459.5" cy="1403.3" r="3.85" fill="#302ca0"/>
<circle cx="466.5" cy="1414.7" r="3.85" fill="#302ca0"/>
<circle cx="472.6" cy="1428.2" r="3.85" fill="#302ca0"/>
<circle cx="478.8" cy="1437.8" r="3.85" fill="#302ca0"/>
<circle cx="485.4" cy="1477.7" r="3.85" fill="#302ca0"/>
<circle cx="491.8" cy="1466" r="3.85" fill="#302ca0"/>
<circle cx="498.3" cy="1474" r="3.85" fill="#302ca0"/>
<circle cx="504.8" cy="1490" r="3.85" fill="#302ca0"/>
<circle cx="511.3" cy="1500" r="3.85" fill="#302ca0"/>
<circle cx="517.8" cy="1506" r="3.85" fill="#302ca0"/>
<circle cx="524.2" cy="1522" r="3.85" fill="#302ca0"/>
<circle cx="531.3" cy="1536" r="3.85" fill="#302ca0"/>
<path d="M263.1 1258.1L276.4 1257.3L283.1 1258.1L289.7 1260.6L296.3 1275.5L303 1278L309.6 1285.5L316.3 1288L322.9 1283.9L328.7 1283.6L335.3 1279.6L342 1270.1L348.6 1269.8L355.2 1270.9L361.9 1267L368.5 1274.3L375.2 1276.7L381.2 1281.5L387.8 1282.8L394.5 1289.8L400.4 1295.1L407.1 1301.3L413.7 1313.9L419.7 1322.8L426.3 1340.2L433 1347.5L439.6 1359L446.5 1378.2L452.9 1390.7L459.5 1405L466.5 1419.2L472.6 1427.7L478.8 1439.2L485.4 1449.8L491.8 1463L498.3 1474.3L504.8 1492L511.3 1499" stroke="#484870" stroke-width="2.2" fill="none" stroke-linejoin="round"/>
<circle cx="263.1" cy="1258.1" r="3.85" fill="#484870"/>
<circle cx="276.4" cy="1257.3" r="3.85" fill="#484870"/>
<circle cx="283.1" cy="1258.1" r="3.85" fill="#484870"/>
<circle cx="289.7" cy="1260.6" r="3.85" fill="#484870"/>
<circle cx="296.3" cy="1275.5" r="3.85" fill="#484870"/>
<circle cx="303" cy="1278" r="3.85" fill="#484870"/>
<circle cx="309.6" cy="1285.5" r="3.85" fill="#484870"/>
<circle cx="316.3" cy="1288" r="3.85" fill="#484870"/>
<circle cx="322.9" cy="1283.9" r="3.85" fill="#484870"/>
<circle cx="328.7" cy="1283.6" r="3.85" fill="#484870"/>
<circle cx="335.3" cy="1279.6" r="3.85" fill="#484870"/>
<circle cx="342" cy="1270.1" r="3.85" fill="#484870"/>
<circle cx="348.6" cy="1269.8" r="3.85" fill="#484870"/>
<circle cx="355.2" cy="1270.9" r="3.85" fill="#484870"/>
<circle cx="361.9" cy="1267" r="3.85" fill="#484870"/>
<circle cx="368.5" cy="1274.3" r="3.85" fill="#484870"/>
<circle cx="375.2" cy="1276.7" r="3.85" fill="#484870"/>
<circle cx="381.2" cy="1281.5" r="3.85" fill="#484870"/>
<circle cx="387.8" cy="1282.8" r="3.85" fill="#484870"/>
<circle cx="394.5" cy="1289.8" r="3.85" fill="#484870"/>
<circle cx="400.4" cy="1295.1" r="3.85" fill="#484870"/>
<circle cx="407.1" cy="1301.3" r="3.85" fill="#484870"/>
<circle cx="413.7" cy="1313.9" r="3.85" fill="#484870"/>
<circle cx="419.7" cy="1322.8" r="3.85" fill="#484870"/>
<circle cx="426.3" cy="1340.2" r="3.85" fill="#484870"/>
<circle cx="433" cy="1347.5" r="3.85" fill="#484870"/>
<circle cx="439.6" cy="1359" r="3.85" fill="#484870"/>
<circle cx="446.5" cy="1378.2" r="3.85" fill="#484870"/>
<circle cx="452.9" cy="1390.7" r="3.85" fill="#484870"/>
<circle cx="459.5" cy="1405" r="3.85" fill="#484870"/>
<circle cx="466.5" cy="1419.2" r="3.85" fill="#484870"/>
<circle cx="472.6" cy="1427.7" r="3.85" fill="#484870"/>
<circle cx="478.8" cy="1439.2" r="3.85" fill="#484870"/>
<circle cx="485.4" cy="1449.8" r="3.85" fill="#484870"/>
<circle cx="491.8" cy="1463" r="3.85" fill="#484870"/>
<circle cx="498.3" cy="1474.3" r="3.85" fill="#484870"/>
<circle cx="504.8" cy="1492" r="3.85" fill="#484870"/>
<circle cx="511.3" cy="1499" r="3.85" fill="#484870"/>
<circle cx="237.9" cy="1254.8" r="3.85" fill="#484870"/>
<circle cx="244" cy="1259.4" r="3.85" fill="#484870"/>
<circle cx="249.8" cy="1264.4" r="3.85" fill="#484870"/>
<circle cx="537.7" cy="1517.7" r="3.85" fill="#484870"/>
<path d="M237.9 1229.9L244 1231.2L249.8 1244.8L256.5 1238.2L263.1 1243.2L269.8 1255.6L276.4 1274.7L283.1 1265.6L289.7 1284.7L303 1294.7L316.3 1281L322.9 1295.5L328.7 1278.9L335.3 1281.8L342 1274.8L348.6 1272.4L355.2 1270.3L361.9 1266.6L368.5 1271.1L375.2 1276L381.2 1280L387.8 1282.1L394.5 1291.1L400.4 1298.5L407.1 1303.3L413.7 1317.3L419.7 1326.2L426.3 1336.9L433 1346.4L438.8 1370L446.5 1378L452.4 1395.9L460 1407.1L466.5 1420.6L472.6 1428L478.8 1440L485.4 1450" stroke="#704848" stroke-width="2.2" fill="none" stroke-linejoin="round"/>
<circle cx="237.9" cy="1229.9" r="3.85" fill="#704848"/>
<circle cx="244" cy="1231.2" r="3.85" fill="#704848"/>
<circle cx="249.8" cy="1244.8" r="3.85" fill="#704848"/>
<circle cx="256.5" cy="1238.2" r="3.85" fill="#704848"/>
<circle cx="263.1" cy="1243.2" r="3.85" fill="#704848"/>
<circle cx="269.8" cy="1255.6" r="3.85" fill="#704848"/>
<circle cx="276.4" cy="1274.7" r="3.85" fill="#704848"/>
<circle cx="283.1" cy="1265.6" r="3.85" fill="#704848"/>
<circle cx="289.7" cy="1284.7" r="3.85" fill="#704848"/>
<circle cx="303" cy="1294.7" r="3.85" fill="#704848"/>
<circle cx="316.3" cy="1281" r="3.85" fill="#704848"/>
<circle cx="322.9" cy="1295.5" r="3.85" fill="#704848"/>
<circle cx="328.7" cy="1278.9" r="3.85" fill="#704848"/>
<circle cx="335.3" cy="1281.8" r="3.85" fill="#704848"/>
<circle cx="342" cy="1274.8" r="3.85" fill="#704848"/>
<circle cx="348.6" cy="1272.4" r="3.85" fill="#704848"/>
<circle cx="355.2" cy="1270.3" r="3.85" fill="#704848"/>
<circle cx="361.9" cy="1266.6" r="3.85" fill="#704848"/>
<circle cx="368.5" cy="1271.1" r="3.85" fill="#704848"/>
<circle cx="375.2" cy="1276" r="3.85" fill="#704848"/>
<circle cx="381.2" cy="1280" r="3.85" fill="#704848"/>
<circle cx="387.8" cy="1282.1" r="3.85" fill="#704848"/>
<circle cx="394.5" cy="1291.1" r="3.85" fill="#704848"/>
<circle cx="400.4" cy="1298.5" r="3.85" fill="#704848"/>
<circle cx="407.1" cy="1303.3" r="3.85" fill="#704848"/>
<circle cx="413.7" cy="1317.3" r="3.85" fill="#704848"/>
<circle cx="419.7" cy="1326.2" r="3.85" fill="#704848"/>
<circle cx="426.3" cy="1336.9" r="3.85" fill="#704848"/>
<circle cx="433" cy="1346.4" r="3.85" fill="#704848"/>
<circle cx="438.8" cy="1370" r="3.85" fill="#704848"/>
<circle cx="446.5" cy="1378" r="3.85" fill="#704848"/>
<circle cx="452.4" cy="1395.9" r="3.85" fill="#704848"/>
<circle cx="460" cy="1407.1" r="3.85" fill="#704848"/>
<circle cx="466.5" cy="1420.6" r="3.85" fill="#704848"/>
<circle cx="472.6" cy="1428" r="3.85" fill="#704848"/>
<circle cx="478.8" cy="1440" r="3.85" fill="#704848"/>
<circle cx="485.4" cy="1450" r="3.85" fill="#704848"/>
<circle cx="211.3" cy="1224" r="3.85" fill="#704848"/>
<path d="M341.4 1263.9L347.9 1262.9L354.6 1265L361.4 1268L367.9 1273.9L374.3 1277.9L381.3 1281L387.8 1284L394.3 1291L400.8 1298L406.7 1307.8L413.2 1311.8L419.7 1322L426.3 1336L433 1346L439.4 1355.3L446.5 1372L452.9 1388L459.7 1395.9L466.5 1410" stroke="#a02c2c" stroke-width="2.2" fill="none" stroke-linejoin="round"/>
<circle cx="341.4" cy="1263.9" r="3.85" fill="#a02c2c"/>
<circle cx="347.9" cy="1262.9" r="3.85" fill="#a02c2c"/>
<circle cx="354.6" cy="1265" r="3.85" fill="#a02c2c"/>
<circle cx="361.4" cy="1268" r="3.85" fill="#a02c2c"/>
<circle cx="367.9" cy="1273.9" r="3.85" fill="#a02c2c"/>
<circle cx="374.3" cy="1277.9" r="3.85" fill="#a02c2c"/>
<circle cx="381.3" cy="1281" r="3.85" fill="#a02c2c"/>
<circle cx="387.8" cy="1284" r="3.85" fill="#a02c2c"/>
<circle cx="394.3" cy="1291" r="3.85" fill="#a02c2c"/>
<circle cx="400.8" cy="1298" r="3.85" fill="#a02c2c"/>
<circle cx="406.7" cy="1307.8" r="3.85" fill="#a02c2c"/>
<circle cx="413.2" cy="1311.8" r="3.85" fill="#a02c2c"/>
<circle cx="419.7" cy="1322" r="3.85" fill="#a02c2c"/>
<circle cx="426.3" cy="1336" r="3.85" fill="#a02c2c"/>
<circle cx="433" cy="1346" r="3.85" fill="#a02c2c"/>
<circle cx="439.4" cy="1355.3" r="3.85" fill="#a02c2c"/>
<circle cx="446.5" cy="1372" r="3.85" fill="#a02c2c"/>
<circle cx="452.9" cy="1388" r="3.85" fill="#a02c2c"/>
<circle cx="459.7" cy="1395.9" r="3.85" fill="#a02c2c"/>
<circle cx="466.5" cy="1410" r="3.85" fill="#a02c2c"/>
<circle cx="211.3" cy="1204.1" r="3.85" fill="#a02c2c"/>
<circle cx="218.3" cy="1200.8" r="3.85" fill="#a02c2c"/>
<circle cx="249.8" cy="1234.5" r="3.85" fill="#a02c2c"/>
<circle cx="296.3" cy="1270.6" r="3.85" fill="#a02c2c"/>
<circle cx="322.9" cy="1289.7" r="3.85" fill="#a02c2c"/>
<path d="M335 1277.9L341.9 1268.9L348.4 1266.9L354.9 1266.4L361.4 1269.9L367.9 1270.9L374.3 1269.9L381.3 1282.9L387.8 1281.9L394.3 1292.8L400.8 1295.8L406.7 1299.8L413.2 1323.7L419.7 1317.8L426.7 1336.7L433 1345.7L439.7 1349.7L446.5 1385.9" stroke="#d01818" stroke-width="2.2" fill="none" stroke-linejoin="round"/>
<circle cx="335" cy="1277.9" r="3.85" fill="#d01818"/>
<circle cx="341.9" cy="1268.9" r="3.85" fill="#d01818"/>
<circle cx="348.4" cy="1266.9" r="3.85" fill="#d01818"/>
<circle cx="354.9" cy="1266.4" r="3.85" fill="#d01818"/>
<circle cx="361.4" cy="1269.9" r="3.85" fill="#d01818"/>
<circle cx="367.9" cy="1270.9" r="3.85" fill="#d01818"/>
<circle cx="374.3" cy="1269.9" r="3.85" fill="#d01818"/>
<circle cx="381.3" cy="1282.9" r="3.85" fill="#d01818"/>
<circle cx="387.8" cy="1281.9" r="3.85" fill="#d01818"/>
<circle cx="394.3" cy="1292.8" r="3.85" fill="#d01818"/>
<circle cx="400.8" cy="1295.8" r="3.85" fill="#d01818"/>
<circle cx="406.7" cy="1299.8" r="3.85" fill="#d01818"/>
<circle cx="413.2" cy="1323.7" r="3.85" fill="#d01818"/>
<circle cx="419.7" cy="1317.8" r="3.85" fill="#d01818"/>
<circle cx="426.7" cy="1336.7" r="3.85" fill="#d01818"/>
<circle cx="433" cy="1345.7" r="3.85" fill="#d01818"/>
<circle cx="439.7" cy="1349.7" r="3.85" fill="#d01818"/>
<circle cx="446.5" cy="1385.9" r="3.85" fill="#d01818"/>
<path d="M361.5 1262.4L367.9 1267.9L374.3 1272L381.3 1277.4L387.8 1273.4L394.3 1287.9L400.8 1293L406.7 1298.3L413.2 1302.8" stroke="#ff0000" stroke-width="2.2" fill="none" stroke-linejoin="round"/>
<circle cx="361.5" cy="1262.4" r="3.85" fill="#ff0000"/>
<circle cx="367.9" cy="1267.9" r="3.85" fill="#ff0000"/>
<circle cx="374.3" cy="1272" r="3.85" fill="#ff0000"/>
<circle cx="381.3" cy="1277.4" r="3.85" fill="#ff0000"/>
<circle cx="387.8" cy="1273.4" r="3.85" fill="#ff0000"/>
<circle cx="394.3" cy="1287.9" r="3.85" fill="#ff0000"/>
<circle cx="400.8" cy="1293" r="3.85" fill="#ff0000"/>
<circle cx="406.7" cy="1298.3" r="3.85" fill="#ff0000"/>
<circle cx="413.2" cy="1302.8" r="3.85" fill="#ff0000"/>
<path d="M403.3 1337.7L511.4 1539.9" stroke="#000" stroke-width="2.1" stroke-linecap="round" stroke-dasharray="4.00 18.53" fill="none"/>
<path d="M880.6 1240L888.3 1232L896.3 1238.8L904 1228.2L911.8 1222.9L919.7 1213.2L927.4 1214.5L934.8 1215.3L942.9 1221.5L950.9 1231.7L958.3 1238.2L966.3 1244L973.7 1257.2L981.8 1271.5L989.8 1290.2L997.2 1309.8L1005.3 1322.7L1013.3 1335.2L1020.1 1350.3L1028.1 1369L1036.1 1379.9L1044.4 1404.9L1051.4 1417.7L1059.5 1430L1067.1 1447.9L1075.2 1461.9L1082.8 1483.4L1090.3 1500.2" stroke="#0000ff" stroke-width="2.2" fill="none" stroke-linejoin="round"/>
<circle cx="880.6" cy="1240" r="3.85" fill="#0000ff"/>
<circle cx="888.3" cy="1232" r="3.85" fill="#0000ff"/>
<circle cx="896.3" cy="1238.8" r="3.85" fill="#0000ff"/>
<circle cx="904" cy="1228.2" r="3.85" fill="#0000ff"/>
<circle cx="911.8" cy="1222.9" r="3.85" fill="#0000ff"/>
<circle cx="919.7" cy="1213.2" r="3.85" fill="#0000ff"/>
<circle cx="927.4" cy="1214.5" r="3.85" fill="#0000ff"/>
<circle cx="934.8" cy="1215.3" r="3.85" fill="#0000ff"/>
<circle cx="942.9" cy="1221.5" r="3.85" fill="#0000ff"/>
<circle cx="950.9" cy="1231.7" r="3.85" fill="#0000ff"/>
<circle cx="958.3" cy="1238.2" r="3.85" fill="#0000ff"/>
<circle cx="966.3" cy="1244" r="3.85" fill="#0000ff"/>
<circle cx="973.7" cy="1257.2" r="3.85" fill="#0000ff"/>
<circle cx="981.8" cy="1271.5" r="3.85" fill="#0000ff"/>
<circle cx="989.8" cy="1290.2" r="3.85" fill="#0000ff"/>
<circle cx="997.2" cy="1309.8" r="3.85" fill="#0000ff"/>
<circle cx="1005.3" cy="1322.7" r="3.85" fill="#0000ff"/>
<circle cx="1013.3" cy="1335.2" r="3.85" fill="#0000ff"/>
<circle cx="1020.1" cy="1350.3" r="3.85" fill="#0000ff"/>
<circle cx="1028.1" cy="1369" r="3.85" fill="#0000ff"/>
<circle cx="1036.1" cy="1379.9" r="3.85" fill="#0000ff"/>
<circle cx="1044.4" cy="1404.9" r="3.85" fill="#0000ff"/>
<circle cx="1051.4" cy="1417.7" r="3.85" fill="#0000ff"/>
<circle cx="1059.5" cy="1430" r="3.85" fill="#0000ff"/>
<circle cx="1067.1" cy="1447.9" r="3.85" fill="#0000ff"/>
<circle cx="1075.2" cy="1461.9" r="3.85" fill="#0000ff"/>
<circle cx="1082.8" cy="1483.4" r="3.85" fill="#0000ff"/>
<circle cx="1090.3" cy="1500.2" r="3.85" fill="#0000ff"/>
<circle cx="841.5" cy="1231.1" r="3.85" fill="#0000ff"/>
<circle cx="872.9" cy="1224.4" r="3.85" fill="#0000ff"/>
<circle cx="857.2" cy="1249.5" r="3.85" fill="#0000ff"/>
<circle cx="1106.6" cy="1511.9" r="3.85" fill="#0000ff"/>
<circle cx="1145.6" cy="1552.6" r="3.85" fill="#0000ff"/>
<path d="M1122.3 1534.5L1129.9 1540.9" stroke="#0000ff" stroke-width="2.2" fill="none" stroke-linejoin="round"/>
<circle cx="1122.3" cy="1534.5" r="3.85" fill="#0000ff"/>
<circle cx="1129.9" cy="1540.9" r="3.85" fill="#0000ff"/>
<path d="M888.3 1238L896.3 1236.6L904 1229.2L911.8 1218.4L919.7 1210.7L927.4 1212.3L934.8 1215.5L942.9 1219.8L950.9 1226.4L958.3 1233.5L966.3 1243.4L973.7 1256.8L981.8 1267.2L989.8 1285.5L997.2 1303.2L1005.3 1317.1L1013.3 1331L1020.1 1348.2L1028.1 1364L1036.1 1380.1L1043.8 1390.6L1051.4 1404.2L1059.5 1427.2L1067.1 1451.9L1075.2 1456.8L1082.8 1474.7L1090.3 1490" stroke="#1818d0" stroke-width="2.2" fill="none" stroke-linejoin="round"/>
<circle cx="888.3" cy="1238" r="3.85" fill="#1818d0"/>
<circle cx="896.3" cy="1236.6" r="3.85" fill="#1818d0"/>
<circle cx="904" cy="1229.2" r="3.85" fill="#1818d0"/>
<circle cx="911.8" cy="1218.4" r="3.85" fill="#1818d0"/>
<circle cx="919.7" cy="1210.7" r="3.85" fill="#1818d0"/>
<circle cx="927.4" cy="1212.3" r="3.85" fill="#1818d0"/>
<circle cx="934.8" cy="1215.5" r="3.85" fill="#1818d0"/>
<circle cx="942.9" cy="1219.8" r="3.85" fill="#1818d0"/>
<circle cx="950.9" cy="1226.4" r="3.85" fill="#1818d0"/>
<circle cx="958.3" cy="1233.5" r="3.85" fill="#1818d0"/>
<circle cx="966.3" cy="1243.4" r="3.85" fill="#1818d0"/>
<circle cx="973.7" cy="1256.8" r="3.85" fill="#1818d0"/>
<circle cx="981.8" cy="1267.2" r="3.85" fill="#1818d0"/>
<circle cx="989.8" cy="1285.5" r="3.85" fill="#1818d0"/>
<circle cx="997.2" cy="1303.2" r="3.85" fill="#1818d0"/>
<circle cx="1005.3" cy="1317.1" r="3.85" fill="#1818d0"/>
<circle cx="1013.3" cy="1331" r="3.85" fill="#1818d0"/>
<circle cx="1020.1" cy="1348.2" r="3.85" fill="#1818d0"/>
<circle cx="1028.1" cy="1364" r="3.85" fill="#1818d0"/>
<circle cx="1036.1" cy="1380.1" r="3.85" fill="#1818d0"/>
<circle cx="1043.8" cy="1390.6" r="3.85" fill="#1818d0"/>
<circle cx="1051.4" cy="1404.2" r="3.85" fill="#1818d0"/>
<circle cx="1059.5" cy="1427.2" r="3.85" fill="#1818d0"/>
<circle cx="1067.1" cy="1451.9" r="3.85" fill="#1818d0"/>
<circle cx="1075.2" cy="1456.8" r="3.85" fill="#1818d0"/>
<circle cx="1082.8" cy="1474.7" r="3.85" fill="#1818d0"/>
<circle cx="1090.3" cy="1490" r="3.85" fill="#1818d0"/>
<path d="M826 1256.2L834.1 1259.5L841.5 1270.7L849.5 1263.3L857.2 1262.8L864.9 1262.5L872.9 1262.8L880.6 1255.8L888.3 1255L896.3 1242.3L904 1235.6L911.8 1225.9L919.7 1217.1L927.4 1215.3L934.8 1214.7L942.9 1222.8L950.9 1229.8L958.3 1236.8L966.3 1244.8L973.7 1260.1L981.8 1270.7L989.8 1284.2L997.2 1300.7L1005.3 1316.2L1013.3 1331L1020.1 1344.4L1028.1 1363.1L1036.3 1386.3L1044.4 1399.1L1051.4 1410L1059.5 1422.9L1067.1 1459L1075.2 1453.7L1082.8 1459.5L1090.3 1487.4L1098.5 1494.4L1106.6 1499.7" stroke="#302ca0" stroke-width="2.2" fill="none" stroke-linejoin="round"/>
<circle cx="826" cy="1256.2" r="3.85" fill="#302ca0"/>
<circle cx="834.1" cy="1259.5" r="3.85" fill="#302ca0"/>
<circle cx="841.5" cy="1270.7" r="3.85" fill="#302ca0"/>
<circle cx="849.5" cy="1263.3" r="3.85" fill="#302ca0"/>
<circle cx="857.2" cy="1262.8" r="3.85" fill="#302ca0"/>
<circle cx="864.9" cy="1262.5" r="3.85" fill="#302ca0"/>
<circle cx="872.9" cy="1262.8" r="3.85" fill="#302ca0"/>
<circle cx="880.6" cy="1255.8" r="3.85" fill="#302ca0"/>
<circle cx="888.3" cy="1255" r="3.85" fill="#302ca0"/>
<circle cx="896.3" cy="1242.3" r="3.85" fill="#302ca0"/>
<circle cx="904" cy="1235.6" r="3.85" fill="#302ca0"/>
<circle cx="911.8" cy="1225.9" r="3.85" fill="#302ca0"/>
<circle cx="919.7" cy="1217.1" r="3.85" fill="#302ca0"/>
<circle cx="927.4" cy="1215.3" r="3.85" fill="#302ca0"/>
<circle cx="934.8" cy="1214.7" r="3.85" fill="#302ca0"/>
<circle cx="942.9" cy="1222.8" r="3.85" fill="#302ca0"/>
<circle cx="950.9" cy="1229.8" r="3.85" fill="#302ca0"/>
<circle cx="958.3" cy="1236.8" r="3.85" fill="#302ca0"/>
<circle cx="966.3" cy="1244.8" r="3.85" fill="#302ca0"/>
<circle cx="973.7" cy="1260.1" r="3.85" fill="#302ca0"/>
<circle cx="981.8" cy="1270.7" r="3.85" fill="#302ca0"/>
<circle cx="989.8" cy="1284.2" r="3.85" fill="#302ca0"/>
<circle cx="997.2" cy="1300.7" r="3.85" fill="#302ca0"/>
<circle cx="1005.3" cy="1316.2" r="3.85" fill="#302ca0"/>
<circle cx="1013.3" cy="1331" r="3.85" fill="#302ca0"/>
<circle cx="1020.1" cy="1344.4" r="3.85" fill="#302ca0"/>
<circle cx="1028.1" cy="1363.1" r="3.85" fill="#302ca0"/>
<circle cx="1036.3" cy="1386.3" r="3.85" fill="#302ca0"/>
<circle cx="1044.4" cy="1399.1" r="3.85" fill="#302ca0"/>
<circle cx="1051.4" cy="1410" r="3.85" fill="#302ca0"/>
<circle cx="1059.5" cy="1422.9" r="3.85" fill="#302ca0"/>
<circle cx="1067.1" cy="1459" r="3.85" fill="#302ca0"/>
<circle cx="1075.2" cy="1453.7" r="3.85" fill="#302ca0"/>
<circle cx="1082.8" cy="1459.5" r="3.85" fill="#302ca0"/>
<circle cx="1090.3" cy="1487.4" r="3.85" fill="#302ca0"/>
<circle cx="1098.5" cy="1494.4" r="3.85" fill="#302ca0"/>
<circle cx="1106.6" cy="1499.7" r="3.85" fill="#302ca0"/>
<circle cx="810.3" cy="1225.6" r="3.85" fill="#302ca0"/>
<path d="M841.5 1275.2L849.5 1263.3L857.2 1270.3L864.9 1267.7L872.9 1271.5L880.6 1258.8L888.3 1248.3L896.3 1236.3L904 1225.9L911.8 1216.9L919.7 1211.7L927.2 1213.9L935.1 1214.7L942.9 1218.6L950.9 1230.5L958.3 1235.3L966.3 1239.7L973.7 1254L981.8 1268.9L989.8 1282.7L997.2 1301.9L1005.3 1314.8L1013.3 1328.5L1020.1 1340.4L1028.1 1359.3L1036.1 1375.5L1043.8 1390.2L1051.4 1403.7L1059.5 1432.8L1067.1 1445" stroke="#484870" stroke-width="2.2" fill="none" stroke-linejoin="round"/>
<circle cx="841.5" cy="1275.2" r="3.85" fill="#484870"/>
<circle cx="849.5" cy="1263.3" r="3.85" fill="#484870"/>
<circle cx="857.2" cy="1270.3" r="3.85" fill="#484870"/>
<circle cx="864.9" cy="1267.7" r="3.85" fill="#484870"/>
<circle cx="872.9" cy="1271.5" r="3.85" fill="#484870"/>
<circle cx="880.6" cy="1258.8" r="3.85" fill="#484870"/>
<circle cx="888.3" cy="1248.3" r="3.85" fill="#484870"/>
<circle cx="896.3" cy="1236.3" r="3.85" fill="#484870"/>
<circle cx="904" cy="1225.9" r="3.85" fill="#484870"/>
<circle cx="911.8" cy="1216.9" r="3.85" fill="#484870"/>
<circle cx="919.7" cy="1211.7" r="3.85" fill="#484870"/>
<circle cx="927.2" cy="1213.9" r="3.85" fill="#484870"/>
<circle cx="935.1" cy="1214.7" r="3.85" fill="#484870"/>
<circle cx="942.9" cy="1218.6" r="3.85" fill="#484870"/>
<circle cx="950.9" cy="1230.5" r="3.85" fill="#484870"/>
<circle cx="958.3" cy="1235.3" r="3.85" fill="#484870"/>
<circle cx="966.3" cy="1239.7" r="3.85" fill="#484870"/>
<circle cx="973.7" cy="1254" r="3.85" fill="#484870"/>
<circle cx="981.8" cy="1268.9" r="3.85" fill="#484870"/>
<circle cx="989.8" cy="1282.7" r="3.85" fill="#484870"/>
<circle cx="997.2" cy="1301.9" r="3.85" fill="#484870"/>
<circle cx="1005.3" cy="1314.8" r="3.85" fill="#484870"/>
<circle cx="1013.3" cy="1328.5" r="3.85" fill="#484870"/>
<circle cx="1020.1" cy="1340.4" r="3.85" fill="#484870"/>
<circle cx="1028.1" cy="1359.3" r="3.85" fill="#484870"/>
<circle cx="1036.1" cy="1375.5" r="3.85" fill="#484870"/>
<circle cx="1043.8" cy="1390.2" r="3.85" fill="#484870"/>
<circle cx="1051.4" cy="1403.7" r="3.85" fill="#484870"/>
<circle cx="1059.5" cy="1432.8" r="3.85" fill="#484870"/>
<circle cx="1067.1" cy="1445" r="3.85" fill="#484870"/>
<circle cx="779.5" cy="1227.4" r="3.85" fill="#484870"/>
<circle cx="1075.2" cy="1443.3" r="3.85" fill="#484870"/>
<path d="M794.9 1239.3L802.7 1245.3" stroke="#484870" stroke-width="2.2" fill="none" stroke-linejoin="round"/>
<circle cx="794.9" cy="1239.3" r="3.85" fill="#484870"/>
<circle cx="802.7" cy="1245.3" r="3.85" fill="#484870"/>
<path d="M864.9 1254.3L872.9 1254.3L880.6 1252.8L888.3 1241.6L896.3 1224.4L904 1218.4L911.8 1220.6L919.7 1213.4L927.4 1215.8L934.8 1215.2L942.9 1222.9L950.9 1229.8L958.3 1235.5L966.3 1242L973.7 1256L981.8 1268.2L989.8 1283.2L997.2 1299.4L1005.3 1311.9L1013.3 1325.9L1020.1 1338L1028.1 1357.8L1036.3 1375.8L1043.8 1386.3L1052 1409" stroke="#704848" stroke-width="2.2" fill="none" stroke-linejoin="round"/>
<circle cx="864.9" cy="1254.3" r="3.85" fill="#704848"/>
<circle cx="872.9" cy="1254.3" r="3.85" fill="#704848"/>
<circle cx="880.6" cy="1252.8" r="3.85" fill="#704848"/>
<circle cx="888.3" cy="1241.6" r="3.85" fill="#704848"/>
<circle cx="896.3" cy="1224.4" r="3.85" fill="#704848"/>
<circle cx="904" cy="1218.4" r="3.85" fill="#704848"/>
<circle cx="911.8" cy="1220.6" r="3.85" fill="#704848"/>
<circle cx="919.7" cy="1213.4" r="3.85" fill="#704848"/>
<circle cx="927.4" cy="1215.8" r="3.85" fill="#704848"/>
<circle cx="934.8" cy="1215.2" r="3.85" fill="#704848"/>
<circle cx="942.9" cy="1222.9" r="3.85" fill="#704848"/>
<circle cx="950.9" cy="1229.8" r="3.85" fill="#704848"/>
<circle cx="958.3" cy="1235.5" r="3.85" fill="#704848"/>
<circle cx="966.3" cy="1242" r="3.85" fill="#704848"/>
<circle cx="973.7" cy="1256" r="3.85" fill="#704848"/>
<circle cx="981.8" cy="1268.2" r="3.85" fill="#704848"/>
<circle cx="989.8" cy="1283.2" r="3.85" fill="#704848"/>
<circle cx="997.2" cy="1299.4" r="3.85" fill="#704848"/>
<circle cx="1005.3" cy="1311.9" r="3.85" fill="#704848"/>
<circle cx="1013.3" cy="1325.9" r="3.85" fill="#704848"/>
<circle cx="1020.1" cy="1338" r="3.85" fill="#704848"/>
<circle cx="1028.1" cy="1357.8" r="3.85" fill="#704848"/>
<circle cx="1036.3" cy="1375.8" r="3.85" fill="#704848"/>
<circle cx="1043.8" cy="1386.3" r="3.85" fill="#704848"/>
<circle cx="1052" cy="1409" r="3.85" fill="#704848"/>
<circle cx="787.4" cy="1205.7" r="3.85" fill="#704848"/>
<circle cx="818.4" cy="1229.6" r="3.85" fill="#704848"/>
<path d="M864.9 1224.4L872.9 1241.6L880.6 1246.8L888.3 1222.1L896.3 1215L904 1226.1L911.8 1218.7L919.7 1212.8L927.4 1213.9L934.8 1215.1L942.9 1219.2L950.9 1228.6L958.3 1235.1L966.3 1238.7L973.7 1256.7L981.8 1266L989.8 1282L997.2 1296.8L1005.3 1308.1L1013.3 1325.9L1020.1 1336.6L1028.7 1359.3L1036.1 1345.1" stroke="#a02c2c" stroke-width="2.2" fill="none" stroke-linejoin="round"/>
<circle cx="864.9" cy="1224.4" r="3.85" fill="#a02c2c"/>
<circle cx="872.9" cy="1241.6" r="3.85" fill="#a02c2c"/>
<circle cx="880.6" cy="1246.8" r="3.85" fill="#a02c2c"/>
<circle cx="888.3" cy="1222.1" r="3.85" fill="#a02c2c"/>
<circle cx="896.3" cy="1215" r="3.85" fill="#a02c2c"/>
<circle cx="904" cy="1226.1" r="3.85" fill="#a02c2c"/>
<circle cx="911.8" cy="1218.7" r="3.85" fill="#a02c2c"/>
<circle cx="919.7" cy="1212.8" r="3.85" fill="#a02c2c"/>
<circle cx="927.4" cy="1213.9" r="3.85" fill="#a02c2c"/>
<circle cx="934.8" cy="1215.1" r="3.85" fill="#a02c2c"/>
<circle cx="942.9" cy="1219.2" r="3.85" fill="#a02c2c"/>
<circle cx="950.9" cy="1228.6" r="3.85" fill="#a02c2c"/>
<circle cx="958.3" cy="1235.1" r="3.85" fill="#a02c2c"/>
<circle cx="966.3" cy="1238.7" r="3.85" fill="#a02c2c"/>
<circle cx="973.7" cy="1256.7" r="3.85" fill="#a02c2c"/>
<circle cx="981.8" cy="1266" r="3.85" fill="#a02c2c"/>
<circle cx="989.8" cy="1282" r="3.85" fill="#a02c2c"/>
<circle cx="997.2" cy="1296.8" r="3.85" fill="#a02c2c"/>
<circle cx="1005.3" cy="1308.1" r="3.85" fill="#a02c2c"/>
<circle cx="1013.3" cy="1325.9" r="3.85" fill="#a02c2c"/>
<circle cx="1020.1" cy="1336.6" r="3.85" fill="#a02c2c"/>
<circle cx="1028.7" cy="1359.3" r="3.85" fill="#a02c2c"/>
<circle cx="1036.1" cy="1345.1" r="3.85" fill="#a02c2c"/>
<circle cx="826" cy="1205.4" r="3.85" fill="#a02c2c"/>
<path d="M864.9 1200.5L872.9 1206.4L880.6 1201.2L888.3 1217.7L896.3 1213.2L904 1212.4L911.8 1211.7L919.7 1216.2L927.2 1222.9L935.1 1228.9L942.9 1221.3L950.9 1229.2L958.3 1233.2L966.3 1244.1L973.7 1254.5L981.8 1289.5L989.2 1295L997.2 1301" stroke="#d01818" stroke-width="2.2" fill="none" stroke-linejoin="round"/>
<circle cx="864.9" cy="1200.5" r="3.85" fill="#d01818"/>
<circle cx="872.9" cy="1206.4" r="3.85" fill="#d01818"/>
<circle cx="880.6" cy="1201.2" r="3.85" fill="#d01818"/>
<circle cx="888.3" cy="1217.7" r="3.85" fill="#d01818"/>
<circle cx="896.3" cy="1213.2" r="3.85" fill="#d01818"/>
<circle cx="904" cy="1212.4" r="3.85" fill="#d01818"/>
<circle cx="911.8" cy="1211.7" r="3.85" fill="#d01818"/>
<circle cx="919.7" cy="1216.2" r="3.85" fill="#d01818"/>
<circle cx="927.2" cy="1222.9" r="3.85" fill="#d01818"/>
<circle cx="935.1" cy="1228.9" r="3.85" fill="#d01818"/>
<circle cx="942.9" cy="1221.3" r="3.85" fill="#d01818"/>
<circle cx="950.9" cy="1229.2" r="3.85" fill="#d01818"/>
<circle cx="958.3" cy="1233.2" r="3.85" fill="#d01818"/>
<circle cx="966.3" cy="1244.1" r="3.85" fill="#d01818"/>
<circle cx="973.7" cy="1254.5" r="3.85" fill="#d01818"/>
<circle cx="981.8" cy="1289.5" r="3.85" fill="#d01818"/>
<circle cx="989.2" cy="1295" r="3.85" fill="#d01818"/>
<circle cx="997.2" cy="1301" r="3.85" fill="#d01818"/>
<path d="M935.1 1207.9L942.9 1213.9L950.9 1226L958.3 1233L966.3 1240L973.7 1248.7" stroke="#ff0000" stroke-width="2.2" fill="none" stroke-linejoin="round"/>
<circle cx="935.1" cy="1207.9" r="3.85" fill="#ff0000"/>
<circle cx="942.9" cy="1213.9" r="3.85" fill="#ff0000"/>
<circle cx="950.9" cy="1226" r="3.85" fill="#ff0000"/>
<circle cx="958.3" cy="1233" r="3.85" fill="#ff0000"/>
<circle cx="966.3" cy="1240" r="3.85" fill="#ff0000"/>
<circle cx="973.7" cy="1248.7" r="3.85" fill="#ff0000"/>
<circle cx="989.2" cy="1261" r="3.85" fill="#ff0000"/>
<path d="M969.3 1289.2L1068.7 1498" stroke="#000" stroke-width="2.1" stroke-linecap="round" stroke-dasharray="4.00 18.72" fill="none"/>
</svg></body></html>
